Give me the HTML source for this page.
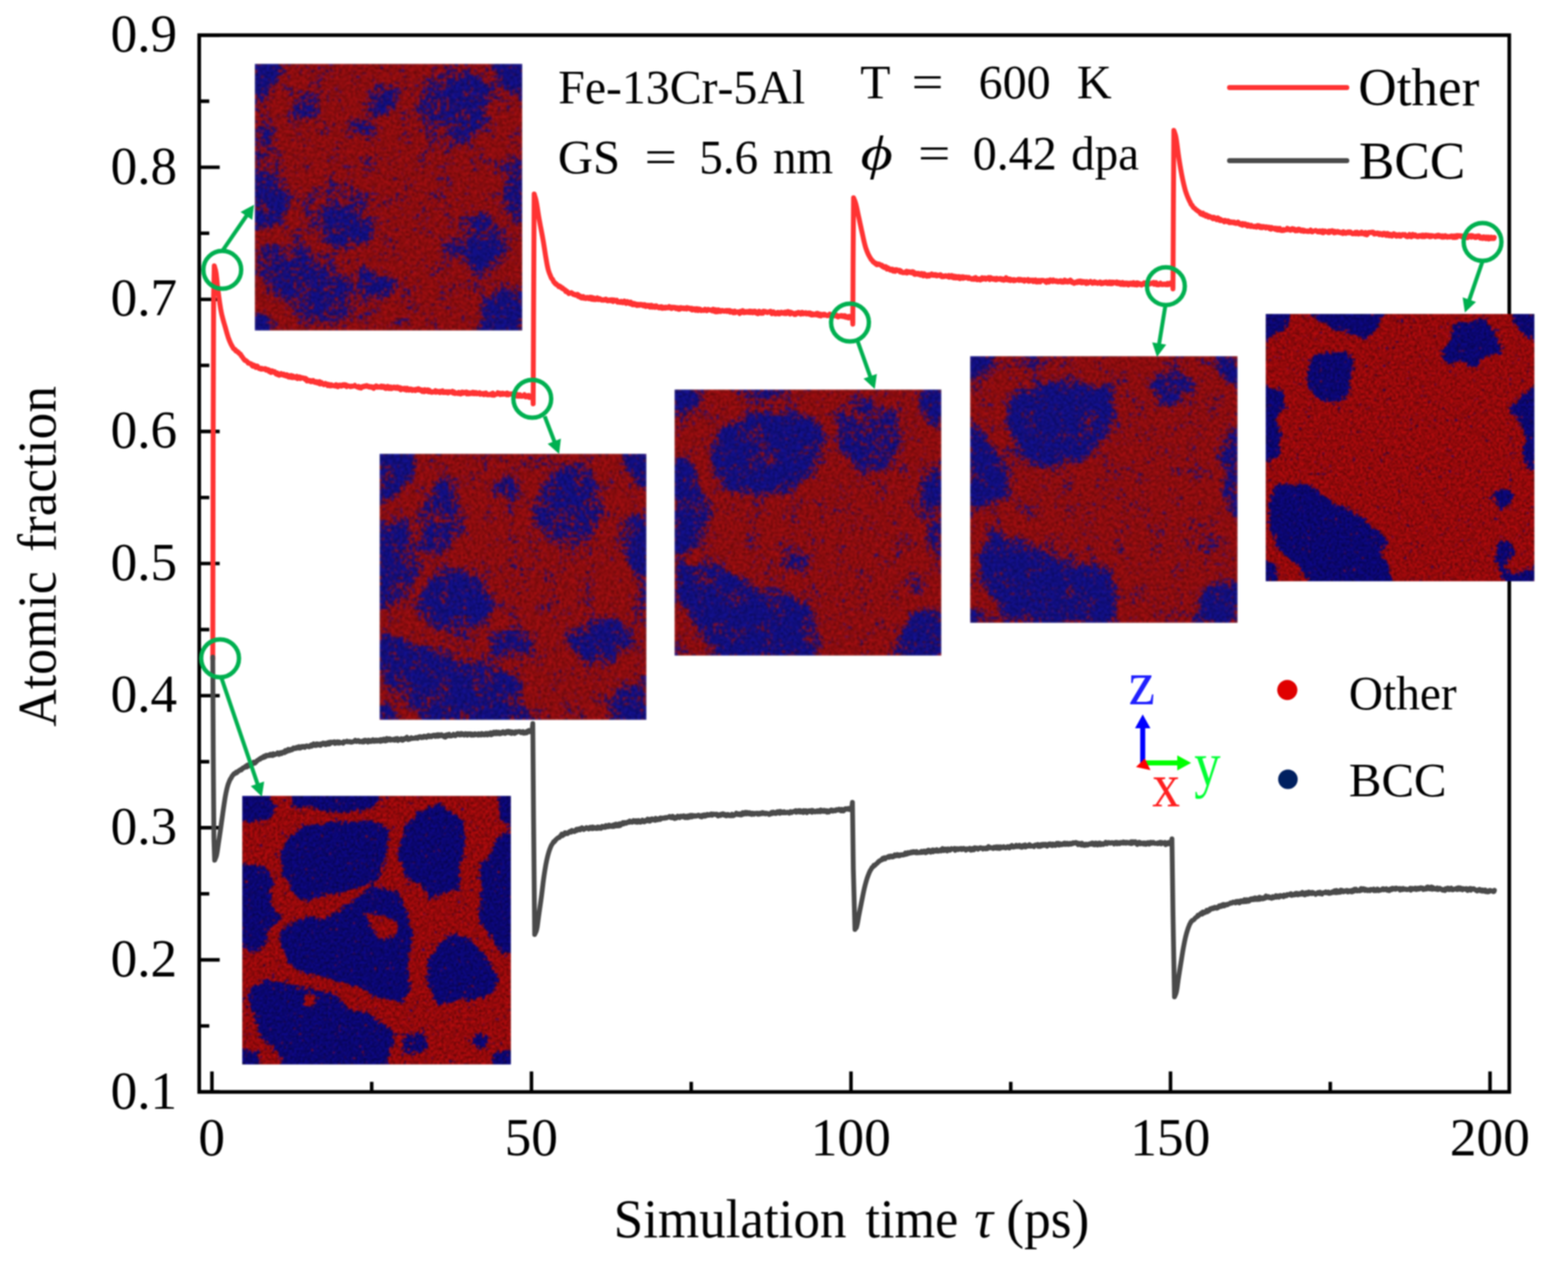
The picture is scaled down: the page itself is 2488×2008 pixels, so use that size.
<!DOCTYPE html>
<html lang="en"><head><meta charset="utf-8"><title>Atomic fraction vs simulation time</title>
<style>html,body{margin:0;padding:0;background:#fff;}body{width:2488px;height:2008px;}svg{display:block;filter:blur(1px);}text{font-family:'Liberation Serif', 'DejaVu Serif', serif;fill:#000;font-kerning:none;}</style></head><body>
<svg width="2488" height="2008" viewBox="0 0 2488 2008">
<rect width="2488" height="2008" fill="#fff"/>
<path d="M316.1 1733.3H348.6M316.1 1628.5H332.1M316.1 1523.6H348.6M316.1 1418.8H332.1M316.1 1313.9H348.6M316.1 1209.1H332.1M316.1 1104.2H348.6M316.1 999.4H332.1M316.1 894.5H348.6M316.1 789.7H332.1M316.1 684.9H348.6M316.1 580.0H332.1M316.1 475.2H348.6M316.1 370.3H332.1M316.1 265.5H348.6M316.1 160.6H332.1M316.1 55.8H348.6M336.3 1733.3V1700.8M843.3 1733.3V1700.8M1350.3 1733.3V1700.8M1857.3 1733.3V1700.8M2364.3 1733.3V1700.8M589.8 1733.3V1717.3M1096.8 1733.3V1717.3M1603.8 1733.3V1717.3M2110.8 1733.3V1717.3" stroke="#000" stroke-width="5.6" fill="none"/>
<rect x="316.1" y="55.8" width="2078.7" height="1677.5" fill="none" stroke="#000" stroke-width="5.8"/>
<text transform="translate(175.38 1759.50) scale(0.9889 1)" font-size="85.5">0.1</text>
<text transform="translate(175.38 1549.81) scale(0.9889 1)" font-size="85.5">0.2</text>
<text transform="translate(175.38 1340.12) scale(0.9889 1)" font-size="85.5">0.3</text>
<text transform="translate(175.38 1130.44) scale(0.9889 1)" font-size="85.5">0.4</text>
<text transform="translate(175.38 920.75) scale(0.9889 1)" font-size="85.5">0.5</text>
<text transform="translate(175.38 711.06) scale(0.9889 1)" font-size="85.5">0.6</text>
<text transform="translate(175.38 501.37) scale(0.9889 1)" font-size="85.5">0.7</text>
<text transform="translate(175.38 291.69) scale(0.9889 1)" font-size="85.5">0.8</text>
<text transform="translate(175.38 82.00) scale(0.9889 1)" font-size="85.5">0.9</text>
<text transform="translate(314.86 1833.80) scale(0.9889 1)" font-size="85.5">0</text>
<text transform="translate(800.72 1833.80) scale(0.9889 1)" font-size="85.5">50</text>
<text transform="translate(1286.59 1833.80) scale(0.9889 1)" font-size="85.5">100</text>
<text transform="translate(1793.59 1833.80) scale(0.9889 1)" font-size="85.5">150</text>
<text transform="translate(2300.59 1833.80) scale(0.9889 1)" font-size="85.5">200</text>
<text transform="translate(87.60 1153.40) rotate(-90) scale(0.9561 1)" font-size="86">Atomic</text>
<text transform="translate(87.60 875.90) rotate(-90) scale(0.9842 1)" font-size="86">fraction</text>
<text transform="translate(973.87 1963.80) scale(0.9781 1)" font-size="86">Simulation</text>
<text transform="translate(1373.19 1963.80) scale(0.9636 1)" font-size="86">time</text>
<text transform="translate(1545.98 1963.80) scale(0.9653 1)" font-size="86" font-style="italic">τ</text>
<text transform="translate(1596.78 1963.80) scale(0.9835 1)" font-size="86">(ps)</text>
<text transform="translate(885.71 164.20) scale(0.9982 1)" font-size="76">Fe-13Cr-5Al</text>
<text transform="translate(885.23 275.30) scale(1.0154 1)" font-size="76">GS</text>
<text transform="translate(1022.76 275.30) scale(1.1989 1)" font-size="76">=</text>
<text transform="translate(1109.45 275.30) scale(0.9851 1)" font-size="76">5.6</text>
<text transform="translate(1226.38 275.30) scale(0.9842 1)" font-size="76">nm</text>
<text transform="translate(1364.98 155.80) scale(1.0322 1)" font-size="76">T</text>
<text transform="translate(1446.44 155.80) scale(1.1791 1)" font-size="76">=</text>
<text transform="translate(1552.83 155.80) scale(1.0015 1)" font-size="76">600</text>
<text transform="translate(1708.70 155.80) scale(1.0055 1)" font-size="76">K</text>
<text transform="translate(1365.53 269.40) scale(1.3013 1)" font-size="76" font-style="italic">ϕ</text>
<text transform="translate(1456.77 269.40) scale(1.1961 1)" font-size="76">=</text>
<text transform="translate(1543.50 269.40) scale(1.0015 1)" font-size="76">0.42</text>
<text transform="translate(1699.71 269.40) scale(0.9807 1)" font-size="76">dpa</text>
<path d="M337.6 1046.0 L338.2 700.0 L339.0 470.0 L340.0 422.0 L341.0 425.3 L342.0 428.8 L343.0 434.1 L344.0 442.8 L345.0 453.0 L346.0 462.0 L347.0 469.5 L348.0 476.8 L349.0 483.5 L350.0 489.7 L351.0 495.0 L352.0 499.6 L353.0 503.7 L354.0 507.5 L355.0 511.1 L356.0 514.5 L357.0 517.9 L358.0 521.4 L359.0 525.0 L360.0 528.6 L361.0 532.0 L362.0 535.2 L363.0 538.0 L364.0 540.5 L365.0 542.9 L366.0 545.1 L367.0 547.2 L368.0 549.0 L369.0 550.5 L370.0 552.7 L371.0 553.7 L372.0 554.3 L373.0 554.7 L374.0 556.9 L375.0 557.4 L376.0 557.3 L377.0 558.7 L378.0 559.0 L379.0 560.5 L380.0 561.5 L381.0 561.6 L382.0 562.9 L383.0 565.1 L384.0 565.8 L385.0 567.3 L386.0 569.0 L387.0 570.0 L388.0 571.5 L389.0 572.4 L390.0 572.2 L391.0 573.3 L392.0 573.8 L393.0 574.7 L394.0 576.7 L395.0 576.7 L396.0 577.0 L397.0 576.8 L398.0 577.6 L399.0 577.6 L400.0 580.5 L401.0 581.3 L402.0 579.2 L403.0 579.6 L404.0 581.1 L405.0 580.8 L406.0 583.3 L407.0 582.8 L408.0 581.0 L409.0 581.9 L410.0 583.5 L411.0 584.9 L412.0 584.5 L413.0 585.0 L414.0 585.9 L415.0 584.7 L416.0 585.6 L417.0 586.0 L418.0 585.5 L419.0 585.5 L420.0 585.2 L421.0 585.1 L422.0 587.4 L423.0 586.1 L424.0 587.9 L425.0 587.9 L426.0 586.8 L427.0 589.7 L428.0 588.0 L429.0 589.2 L430.0 591.2 L431.0 588.4 L432.0 588.7 L433.0 589.1 L434.0 590.9 L435.0 590.8 L436.0 590.2 L437.0 592.3 L438.0 593.6 L439.0 592.2 L440.0 592.0 L441.0 595.0 L442.0 595.2 L443.0 595.7 L444.0 595.1 L445.0 594.3 L446.0 592.9 L447.0 595.0 L448.0 595.2 L449.0 594.5 L450.0 593.9 L451.0 596.1 L452.0 595.7 L453.0 595.3 L454.0 596.8 L455.0 594.8 L456.0 595.7 L457.0 595.6 L458.0 598.5 L459.0 596.4 L460.0 598.4 L461.0 599.0 L462.0 596.0 L463.0 598.4 L464.0 599.3 L465.0 596.9 L466.0 597.3 L467.0 598.9 L468.0 599.4 L469.0 599.7 L470.0 599.1 L471.0 597.4 L472.0 600.9 L473.0 599.1 L474.0 598.9 L475.0 598.2 L476.0 598.5 L477.0 600.9 L478.0 599.5 L479.0 599.4 L480.0 599.7 L481.0 599.8 L482.0 600.2 L483.0 601.3 L484.0 602.3 L485.0 600.7 L486.0 601.3 L487.0 604.7 L488.0 603.0 L489.0 603.2 L490.0 604.5 L491.0 603.9 L492.0 604.0 L493.0 605.9 L494.0 606.0 L495.0 604.5 L496.0 604.1 L497.0 603.9 L498.0 605.5 L499.0 606.8 L500.0 607.1 L501.0 606.3 L502.0 605.8 L503.0 607.6 L504.0 606.7 L505.0 608.0 L506.0 608.8 L507.0 605.7 L508.0 609.4 L509.0 608.9 L510.0 607.0 L511.0 609.2 L512.0 609.3 L513.0 610.2 L514.0 610.7 L515.0 609.8 L516.0 608.7 L517.0 609.6 L518.0 610.4 L519.0 609.6 L520.0 612.2 L521.0 610.3 L522.0 610.2 L523.0 612.6 L524.0 612.6 L525.0 611.8 L526.0 610.8 L527.0 612.2 L528.0 611.9 L529.0 612.1 L530.0 612.5 L531.0 612.6 L532.0 612.9 L533.0 610.6 L534.0 610.8 L535.0 613.6 L536.0 614.0 L537.0 613.3 L538.0 611.5 L539.0 611.2 L540.0 612.2 L541.0 611.7 L542.0 612.9 L543.0 612.2 L544.0 610.6 L545.0 610.8 L546.0 612.0 L547.0 610.5 L548.0 611.3 L549.0 611.0 L550.0 613.8 L551.0 612.1 L552.0 612.5 L553.0 612.5 L554.0 612.8 L555.0 613.0 L556.0 613.9 L557.0 613.7 L558.0 612.8 L559.0 613.4 L560.0 613.1 L561.0 612.7 L562.0 612.7 L563.0 611.7 L564.0 613.1 L565.0 613.6 L566.0 613.7 L567.0 614.5 L568.0 614.6 L569.0 613.3 L570.0 615.6 L571.0 615.6 L572.0 614.7 L573.0 615.9 L574.0 614.6 L575.0 613.6 L576.0 613.3 L577.0 613.9 L578.0 612.7 L579.0 613.2 L580.0 612.5 L581.0 613.2 L582.0 612.0 L583.0 612.7 L584.0 613.1 L585.0 614.2 L586.0 613.4 L587.0 614.6 L588.0 614.1 L589.0 613.7 L590.0 614.9 L591.0 615.4 L592.0 614.4 L593.0 616.4 L594.0 614.8 L595.0 613.6 L596.0 614.4 L597.0 612.7 L598.0 614.6 L599.0 614.8 L600.0 613.8 L601.0 614.6 L602.0 614.4 L603.0 614.4 L604.0 614.8 L605.0 612.9 L606.0 614.8 L607.0 613.2 L608.0 614.6 L609.0 613.2 L610.0 613.5 L611.0 616.3 L612.0 616.7 L613.0 615.7 L614.0 615.8 L615.0 613.2 L616.0 613.6 L617.0 616.8 L618.0 615.5 L619.0 616.5 L620.0 614.2 L621.0 617.0 L622.0 616.8 L623.0 615.1 L624.0 615.3 L625.0 614.4 L626.0 615.2 L627.0 616.3 L628.0 616.5 L629.0 614.7 L630.0 615.6 L631.0 614.4 L632.0 616.8 L633.0 616.3 L634.0 617.1 L635.0 615.4 L636.0 618.8 L637.0 616.7 L638.0 616.4 L639.0 617.2 L640.0 617.6 L641.0 616.7 L642.0 618.4 L643.0 616.2 L644.0 618.3 L645.0 619.3 L646.0 616.2 L647.0 618.7 L648.0 618.3 L649.0 619.5 L650.0 619.3 L651.0 617.4 L652.0 617.3 L653.0 618.8 L654.0 619.8 L655.0 618.4 L656.0 619.4 L657.0 618.9 L658.0 618.4 L659.0 619.9 L660.0 619.1 L661.0 617.6 L662.0 617.8 L663.0 618.9 L664.0 617.1 L665.0 617.6 L666.0 619.3 L667.0 618.8 L668.0 620.0 L669.0 618.8 L670.0 621.4 L671.0 620.1 L672.0 619.7 L673.0 621.7 L674.0 618.5 L675.0 620.3 L676.0 621.0 L677.0 621.1 L678.0 621.0 L679.0 618.9 L680.0 622.0 L681.0 619.3 L682.0 621.7 L683.0 622.2 L684.0 622.4 L685.0 622.8 L686.0 621.8 L687.0 622.3 L688.0 621.7 L689.0 622.0 L690.0 621.9 L691.0 620.2 L692.0 622.7 L693.0 620.9 L694.0 622.1 L695.0 621.3 L696.0 621.6 L697.0 621.3 L698.0 623.3 L699.0 622.5 L700.0 621.0 L701.0 620.9 L702.0 620.4 L703.0 623.1 L704.0 622.8 L705.0 623.1 L706.0 622.0 L707.0 621.7 L708.0 622.9 L709.0 621.9 L710.0 621.7 L711.0 623.8 L712.0 622.0 L713.0 621.6 L714.0 622.5 L715.0 622.3 L716.0 622.7 L717.0 622.5 L718.0 621.1 L719.0 624.1 L720.0 623.2 L721.0 622.4 L722.0 624.7 L723.0 623.5 L724.0 624.1 L725.0 624.3 L726.0 624.5 L727.0 624.8 L728.0 622.7 L729.0 624.4 L730.0 623.8 L731.0 625.4 L732.0 623.0 L733.0 622.4 L734.0 624.0 L735.0 624.3 L736.0 622.6 L737.0 622.8 L738.0 623.6 L739.0 623.3 L740.0 622.3 L741.0 625.3 L742.0 622.8 L743.0 625.0 L744.0 625.4 L745.0 624.5 L746.0 623.6 L747.0 624.9 L748.0 624.7 L749.0 623.3 L750.0 622.7 L751.0 625.0 L752.0 623.0 L753.0 625.0 L754.0 623.2 L755.0 624.5 L756.0 623.5 L757.0 625.2 L758.0 623.9 L759.0 624.2 L760.0 624.4 L761.0 623.4 L762.0 625.9 L763.0 625.2 L764.0 625.0 L765.0 624.4 L766.0 625.3 L767.0 626.4 L768.0 626.5 L769.0 624.2 L770.0 624.4 L771.0 623.8 L772.0 626.2 L773.0 626.6 L774.0 626.8 L775.0 626.0 L776.0 626.5 L777.0 626.6 L778.0 625.8 L779.0 625.3 L780.0 625.0 L781.0 627.2 L782.0 623.9 L783.0 626.1 L784.0 627.4 L785.0 626.4 L786.0 626.0 L787.0 626.0 L788.0 625.4 L789.0 625.5 L790.0 623.4 L791.0 624.1 L792.0 623.9 L793.0 624.5 L794.0 626.4 L795.0 624.2 L796.0 624.9 L797.0 625.8 L798.0 624.2 L799.0 625.7 L800.0 625.8 L801.0 624.9 L802.0 624.6 L803.0 625.1 L804.0 626.6 L805.0 623.8 L806.0 626.0 L807.0 626.7 L808.0 625.6 L809.0 625.2 L810.0 625.4 L811.0 625.6 L812.0 625.1 L813.0 626.4 L814.0 626.1 L815.0 625.6 L816.0 626.1 L817.0 626.5 L818.0 628.6 L819.0 627.3 L820.0 625.7 L821.0 629.1 L822.0 626.6 L823.0 627.7 L824.0 628.8 L825.0 626.6 L826.0 628.0 L827.0 629.0 L828.0 628.7 L829.0 629.1 L830.0 627.9 L831.0 627.6 L832.0 626.5 L833.0 628.2 L834.0 629.9 L835.0 628.3 L836.0 629.6 L837.0 627.8 L838.0 627.8 L839.0 627.7 L840.0 631.1 L841.0 629.0 L842.0 628.7 L843.0 630.5 L844.0 629.1 L845.0 630.3 L845.2 629.0 L845.6 629.0 L846.0 641.0 L846.6 500.0 L847.6 308.0 L848.6 311.3 L849.6 314.5 L850.6 318.4 L851.6 323.6 L852.6 329.7 L853.6 336.3 L854.6 342.6 L855.6 348.4 L856.6 353.8 L857.6 359.1 L858.6 364.3 L859.6 369.5 L860.6 374.8 L861.6 380.4 L862.6 386.2 L863.6 392.6 L864.6 399.2 L865.6 405.6 L866.6 411.5 L867.6 417.3 L868.6 422.7 L869.6 427.0 L870.6 430.4 L871.6 433.3 L872.6 435.9 L873.6 438.1 L874.6 440.8 L875.6 442.5 L876.6 443.1 L877.6 445.1 L878.6 447.7 L879.6 447.8 L880.6 449.9 L881.6 451.0 L882.6 450.5 L883.6 452.3 L884.6 452.6 L885.6 452.9 L886.6 454.9 L887.6 453.9 L888.6 455.6 L889.6 455.0 L890.6 456.8 L891.6 457.6 L892.6 457.0 L893.6 458.9 L894.6 458.8 L895.6 460.0 L896.6 459.9 L897.6 462.7 L898.6 462.4 L899.6 462.2 L900.6 464.0 L901.6 464.2 L902.6 466.0 L903.6 465.5 L904.6 465.4 L905.6 464.8 L906.6 464.5 L907.6 465.3 L908.6 466.0 L909.6 467.3 L910.6 466.8 L911.6 468.0 L912.6 468.0 L913.6 468.6 L914.6 467.7 L915.6 468.7 L916.6 467.4 L917.6 470.6 L918.6 469.3 L919.6 469.2 L920.6 471.9 L921.6 470.8 L922.6 473.0 L923.6 471.0 L924.6 470.7 L925.6 470.6 L926.6 473.4 L927.6 472.6 L928.6 472.4 L929.6 474.0 L930.6 472.2 L931.6 471.9 L932.6 473.2 L933.6 472.5 L934.6 474.2 L935.6 472.1 L936.6 471.7 L937.6 473.6 L938.6 475.0 L939.6 472.1 L940.6 473.6 L941.6 475.3 L942.6 473.1 L943.6 475.7 L944.6 475.7 L945.6 475.0 L946.6 473.5 L947.6 472.9 L948.6 475.4 L949.6 475.6 L950.6 475.4 L951.6 474.0 L952.6 475.4 L953.6 475.1 L954.6 476.4 L955.6 475.8 L956.6 476.5 L957.6 476.7 L958.6 475.7 L959.6 475.2 L960.6 476.2 L961.6 474.9 L962.6 475.6 L963.6 477.6 L964.6 477.5 L965.6 477.3 L966.6 476.3 L967.6 477.2 L968.6 476.0 L969.6 476.5 L970.6 475.9 L971.6 478.2 L972.6 478.6 L973.6 475.9 L974.6 476.2 L975.6 477.4 L976.6 476.6 L977.6 477.1 L978.6 476.6 L979.6 479.6 L980.6 479.8 L981.6 478.8 L982.6 479.4 L983.6 480.1 L984.6 479.5 L985.6 478.4 L986.6 479.2 L987.6 480.7 L988.6 480.6 L989.6 479.2 L990.6 477.9 L991.6 479.1 L992.6 480.6 L993.6 481.5 L994.6 478.7 L995.6 478.6 L996.6 480.9 L997.6 480.0 L998.6 480.4 L999.6 482.2 L1000.6 479.5 L1001.6 482.7 L1002.6 482.7 L1003.6 483.7 L1004.6 483.4 L1005.6 481.5 L1006.6 483.7 L1007.6 482.2 L1008.6 483.5 L1009.6 482.8 L1010.6 485.0 L1011.6 484.5 L1012.6 483.2 L1013.6 484.5 L1014.6 483.4 L1015.6 484.4 L1016.6 483.1 L1017.6 483.9 L1018.6 483.5 L1019.6 483.5 L1020.6 485.4 L1021.6 483.9 L1022.6 483.4 L1023.6 483.7 L1024.6 486.5 L1025.6 486.2 L1026.6 485.9 L1027.6 484.7 L1028.6 486.3 L1029.6 485.8 L1030.6 484.8 L1031.6 487.6 L1032.6 487.2 L1033.6 484.4 L1034.6 485.6 L1035.6 487.6 L1036.6 486.0 L1037.6 485.7 L1038.6 486.1 L1039.6 487.9 L1040.6 485.4 L1041.6 485.5 L1042.6 486.6 L1043.6 487.8 L1044.6 488.2 L1045.6 488.7 L1046.6 488.8 L1047.6 486.9 L1048.6 487.1 L1049.6 486.8 L1050.6 489.4 L1051.6 488.3 L1052.6 489.1 L1053.6 487.8 L1054.6 488.6 L1055.6 489.2 L1056.6 487.6 L1057.6 488.5 L1058.6 488.0 L1059.6 488.7 L1060.6 487.9 L1061.6 486.7 L1062.6 488.4 L1063.6 487.7 L1064.6 489.4 L1065.6 489.7 L1066.6 487.5 L1067.6 488.9 L1068.6 487.8 L1069.6 487.6 L1070.6 488.7 L1071.6 488.1 L1072.6 489.9 L1073.6 489.1 L1074.6 488.4 L1075.6 488.3 L1076.6 490.9 L1077.6 489.0 L1078.6 490.9 L1079.6 488.3 L1080.6 488.6 L1081.6 488.5 L1082.6 489.8 L1083.6 489.9 L1084.6 488.8 L1085.6 490.2 L1086.6 489.9 L1087.6 488.9 L1088.6 488.5 L1089.6 490.5 L1090.6 488.3 L1091.6 489.0 L1092.6 488.9 L1093.6 488.9 L1094.6 489.7 L1095.6 490.9 L1096.6 490.8 L1097.6 489.4 L1098.6 492.1 L1099.6 491.2 L1100.6 491.0 L1101.6 490.1 L1102.6 492.0 L1103.6 492.6 L1104.6 489.8 L1105.6 489.8 L1106.6 491.9 L1107.6 492.9 L1108.6 490.3 L1109.6 490.7 L1110.6 490.7 L1111.6 491.8 L1112.6 493.0 L1113.6 492.1 L1114.6 492.1 L1115.6 492.6 L1116.6 492.9 L1117.6 492.3 L1118.6 490.8 L1119.6 491.6 L1120.6 492.9 L1121.6 493.3 L1122.6 492.5 L1123.6 491.1 L1124.6 491.7 L1125.6 491.9 L1126.6 492.2 L1127.6 492.0 L1128.6 492.7 L1129.6 493.3 L1130.6 491.5 L1131.6 490.8 L1132.6 493.9 L1133.6 493.4 L1134.6 494.6 L1135.6 491.6 L1136.6 495.0 L1137.6 494.0 L1138.6 494.7 L1139.6 491.8 L1140.6 492.1 L1141.6 494.3 L1142.6 493.2 L1143.6 494.3 L1144.6 493.0 L1145.6 492.7 L1146.6 493.6 L1147.6 493.1 L1148.6 493.9 L1149.6 494.2 L1150.6 493.8 L1151.6 492.9 L1152.6 493.1 L1153.6 494.4 L1154.6 492.9 L1155.6 493.4 L1156.6 493.7 L1157.6 492.9 L1158.6 495.6 L1159.6 493.5 L1160.6 494.0 L1161.6 495.1 L1162.6 494.5 L1163.6 496.5 L1164.6 494.3 L1165.6 493.8 L1166.6 496.4 L1167.6 495.7 L1168.6 495.2 L1169.6 495.2 L1170.6 494.9 L1171.6 495.9 L1172.6 496.5 L1173.6 497.6 L1174.6 494.2 L1175.6 494.1 L1176.6 496.1 L1177.6 495.0 L1178.6 493.1 L1179.6 493.8 L1180.6 496.4 L1181.6 494.4 L1182.6 494.9 L1183.6 495.8 L1184.6 494.4 L1185.6 494.4 L1186.6 495.0 L1187.6 496.1 L1188.6 495.9 L1189.6 493.7 L1190.6 496.3 L1191.6 496.2 L1192.6 494.0 L1193.6 496.4 L1194.6 496.5 L1195.6 495.7 L1196.6 494.0 L1197.6 496.0 L1198.6 494.1 L1199.6 495.8 L1200.6 497.2 L1201.6 495.8 L1202.6 497.9 L1203.6 496.1 L1204.6 494.1 L1205.6 494.9 L1206.6 496.7 L1207.6 497.3 L1208.6 496.7 L1209.6 495.0 L1210.6 497.2 L1211.6 494.0 L1212.6 495.7 L1213.6 494.5 L1214.6 494.4 L1215.6 495.2 L1216.6 495.5 L1217.6 496.2 L1218.6 495.7 L1219.6 495.1 L1220.6 494.7 L1221.6 495.5 L1222.6 494.1 L1223.6 494.6 L1224.6 497.9 L1225.6 496.4 L1226.6 496.2 L1227.6 495.2 L1228.6 497.8 L1229.6 497.9 L1230.6 498.4 L1231.6 497.8 L1232.6 497.8 L1233.6 495.9 L1234.6 495.7 L1235.6 498.3 L1236.6 498.3 L1237.6 497.9 L1238.6 496.0 L1239.6 495.5 L1240.6 496.9 L1241.6 496.1 L1242.6 497.4 L1243.6 497.2 L1244.6 497.7 L1245.6 495.3 L1246.6 495.4 L1247.6 497.9 L1248.6 495.4 L1249.6 496.5 L1250.6 494.5 L1251.6 497.1 L1252.6 495.8 L1253.6 498.5 L1254.6 495.5 L1255.6 496.1 L1256.6 497.4 L1257.6 496.8 L1258.6 497.6 L1259.6 497.5 L1260.6 499.1 L1261.6 497.6 L1262.6 499.1 L1263.6 496.8 L1264.6 497.2 L1265.6 496.7 L1266.6 495.8 L1267.6 497.3 L1268.6 496.3 L1269.6 497.2 L1270.6 498.6 L1271.6 496.8 L1272.6 495.8 L1273.6 496.1 L1274.6 498.2 L1275.6 496.7 L1276.6 497.2 L1277.6 497.4 L1278.6 496.5 L1279.6 498.3 L1280.6 497.4 L1281.6 497.9 L1282.6 496.9 L1283.6 498.7 L1284.6 496.7 L1285.6 496.7 L1286.6 499.6 L1287.6 500.2 L1288.6 500.2 L1289.6 498.1 L1290.6 499.9 L1291.6 499.8 L1292.6 499.6 L1293.6 498.6 L1294.6 499.5 L1295.6 497.6 L1296.6 499.9 L1297.6 497.3 L1298.6 500.1 L1299.6 501.0 L1300.6 500.6 L1301.6 498.6 L1302.6 501.5 L1303.6 499.9 L1304.6 500.0 L1305.6 499.1 L1306.6 498.8 L1307.6 500.5 L1308.6 498.9 L1309.6 500.1 L1310.6 499.8 L1311.6 500.7 L1312.6 501.2 L1313.6 501.2 L1314.6 500.5 L1315.6 500.1 L1316.6 498.5 L1317.6 499.0 L1318.6 499.5 L1319.6 499.9 L1320.6 500.7 L1321.6 501.4 L1322.6 501.3 L1323.6 500.4 L1324.6 500.0 L1325.6 501.4 L1326.6 501.7 L1327.6 500.4 L1328.6 502.1 L1329.6 503.2 L1330.6 502.7 L1331.6 501.4 L1332.6 501.9 L1333.6 501.6 L1334.6 500.8 L1335.6 502.0 L1336.6 501.1 L1337.6 502.4 L1338.6 501.5 L1339.6 502.6 L1340.6 501.0 L1341.6 503.5 L1342.6 502.0 L1343.6 504.0 L1344.6 504.2 L1345.6 503.7 L1346.6 504.7 L1347.6 502.1 L1348.6 502.5 L1349.6 503.0 L1350.6 503.1 L1351.6 502.7 L1352.2 503.5 L1352.6 503.5 L1353.2 514.5 L1353.6 420.0 L1354.4 314.0 L1355.4 316.4 L1356.4 318.9 L1357.4 321.7 L1358.4 325.3 L1359.4 329.6 L1360.4 334.4 L1361.4 339.2 L1362.4 343.8 L1363.4 348.4 L1364.4 353.1 L1365.4 357.7 L1366.4 362.3 L1367.4 366.8 L1368.4 371.4 L1369.4 376.0 L1370.4 380.6 L1371.4 384.9 L1372.4 388.9 L1373.4 392.4 L1374.4 395.4 L1375.4 398.1 L1376.4 400.7 L1377.4 402.9 L1378.4 404.9 L1379.4 406.8 L1380.4 408.7 L1381.4 410.2 L1382.4 412.0 L1383.4 412.7 L1384.4 414.0 L1385.4 415.7 L1386.4 415.6 L1387.4 417.4 L1388.4 417.4 L1389.4 418.9 L1390.4 418.2 L1391.4 420.3 L1392.4 419.6 L1393.4 420.0 L1394.4 418.9 L1395.4 419.5 L1396.4 419.7 L1397.4 420.7 L1398.4 421.7 L1399.4 421.1 L1400.4 423.2 L1401.4 422.5 L1402.4 424.4 L1403.4 424.8 L1404.4 423.3 L1405.4 423.1 L1406.4 424.5 L1407.4 427.1 L1408.4 426.1 L1409.4 425.3 L1410.4 426.6 L1411.4 428.0 L1412.4 428.6 L1413.4 427.3 L1414.4 427.1 L1415.4 429.1 L1416.4 427.3 L1417.4 430.2 L1418.4 428.3 L1419.4 428.7 L1420.4 430.8 L1421.4 428.0 L1422.4 429.6 L1423.4 428.5 L1424.4 429.7 L1425.4 429.6 L1426.4 429.9 L1427.4 429.1 L1428.4 431.8 L1429.4 429.9 L1430.4 431.7 L1431.4 431.6 L1432.4 432.9 L1433.4 432.7 L1434.4 432.7 L1435.4 432.8 L1436.4 432.7 L1437.4 431.1 L1438.4 430.5 L1439.4 433.4 L1440.4 433.0 L1441.4 431.1 L1442.4 431.3 L1443.4 431.5 L1444.4 431.6 L1445.4 433.0 L1446.4 432.4 L1447.4 431.4 L1448.4 433.2 L1449.4 431.6 L1450.4 435.0 L1451.4 435.5 L1452.4 435.6 L1453.4 433.6 L1454.4 433.8 L1455.4 434.0 L1456.4 435.3 L1457.4 433.9 L1458.4 435.8 L1459.4 436.1 L1460.4 436.7 L1461.4 436.1 L1462.4 434.1 L1463.4 437.1 L1464.4 435.5 L1465.4 438.0 L1466.4 434.6 L1467.4 435.0 L1468.4 437.3 L1469.4 437.2 L1470.4 438.6 L1471.4 438.4 L1472.4 436.3 L1473.4 436.1 L1474.4 438.2 L1475.4 436.8 L1476.4 435.9 L1477.4 436.4 L1478.4 434.9 L1479.4 437.0 L1480.4 437.1 L1481.4 435.8 L1482.4 437.2 L1483.4 437.3 L1484.4 435.8 L1485.4 436.9 L1486.4 437.9 L1487.4 436.5 L1488.4 436.9 L1489.4 436.7 L1490.4 437.5 L1491.4 437.7 L1492.4 436.1 L1493.4 437.3 L1494.4 439.4 L1495.4 439.4 L1496.4 438.9 L1497.4 438.1 L1498.4 438.9 L1499.4 437.9 L1500.4 437.5 L1501.4 438.2 L1502.4 438.7 L1503.4 439.2 L1504.4 438.8 L1505.4 437.4 L1506.4 440.1 L1507.4 437.9 L1508.4 439.4 L1509.4 439.5 L1510.4 437.3 L1511.4 440.3 L1512.4 439.6 L1513.4 441.0 L1514.4 438.4 L1515.4 439.3 L1516.4 441.2 L1517.4 438.9 L1518.4 440.5 L1519.4 441.1 L1520.4 441.5 L1521.4 439.1 L1522.4 439.4 L1523.4 442.3 L1524.4 439.5 L1525.4 440.6 L1526.4 441.4 L1527.4 439.2 L1528.4 441.8 L1529.4 439.6 L1530.4 440.5 L1531.4 441.1 L1532.4 440.5 L1533.4 439.9 L1534.4 440.7 L1535.4 440.6 L1536.4 442.0 L1537.4 440.4 L1538.4 441.1 L1539.4 441.7 L1540.4 442.7 L1541.4 442.7 L1542.4 443.3 L1543.4 442.8 L1544.4 441.9 L1545.4 443.3 L1546.4 441.2 L1547.4 442.6 L1548.4 440.7 L1549.4 443.8 L1550.4 444.1 L1551.4 443.9 L1552.4 443.8 L1553.4 442.6 L1554.4 443.4 L1555.4 444.3 L1556.4 442.6 L1557.4 443.6 L1558.4 440.8 L1559.4 443.2 L1560.4 442.7 L1561.4 441.3 L1562.4 442.6 L1563.4 441.4 L1564.4 443.3 L1565.4 441.9 L1566.4 442.4 L1567.4 441.6 L1568.4 440.7 L1569.4 442.8 L1570.4 443.8 L1571.4 440.5 L1572.4 440.9 L1573.4 441.3 L1574.4 443.0 L1575.4 442.9 L1576.4 443.3 L1577.4 442.1 L1578.4 443.7 L1579.4 442.6 L1580.4 444.1 L1581.4 441.7 L1582.4 443.6 L1583.4 442.4 L1584.4 442.8 L1585.4 443.3 L1586.4 442.3 L1587.4 441.9 L1588.4 443.2 L1589.4 444.1 L1590.4 442.5 L1591.4 444.0 L1592.4 444.8 L1593.4 443.7 L1594.4 442.6 L1595.4 444.2 L1596.4 440.8 L1597.4 442.9 L1598.4 444.1 L1599.4 442.7 L1600.4 444.7 L1601.4 443.1 L1602.4 442.9 L1603.4 445.4 L1604.4 443.7 L1605.4 443.8 L1606.4 444.3 L1607.4 443.9 L1608.4 445.6 L1609.4 443.9 L1610.4 445.4 L1611.4 445.1 L1612.4 444.6 L1613.4 444.4 L1614.4 444.2 L1615.4 443.6 L1616.4 443.3 L1617.4 445.1 L1618.4 443.9 L1619.4 443.4 L1620.4 444.2 L1621.4 445.1 L1622.4 444.3 L1623.4 445.0 L1624.4 444.4 L1625.4 446.3 L1626.4 444.1 L1627.4 445.0 L1628.4 444.9 L1629.4 445.3 L1630.4 445.3 L1631.4 443.7 L1632.4 446.6 L1633.4 444.9 L1634.4 445.8 L1635.4 444.4 L1636.4 444.9 L1637.4 445.1 L1638.4 444.6 L1639.4 447.0 L1640.4 446.7 L1641.4 444.8 L1642.4 445.4 L1643.4 444.5 L1644.4 447.4 L1645.4 446.0 L1646.4 447.6 L1647.4 447.6 L1648.4 445.1 L1649.4 447.3 L1650.4 447.6 L1651.4 445.3 L1652.4 444.8 L1653.4 445.0 L1654.4 445.2 L1655.4 445.0 L1656.4 445.4 L1657.4 446.0 L1658.4 447.1 L1659.4 447.1 L1660.4 448.3 L1661.4 445.2 L1662.4 446.4 L1663.4 445.5 L1664.4 447.7 L1665.4 446.9 L1666.4 444.2 L1667.4 445.5 L1668.4 446.3 L1669.4 445.8 L1670.4 446.8 L1671.4 444.4 L1672.4 445.3 L1673.4 446.2 L1674.4 446.6 L1675.4 446.9 L1676.4 445.6 L1677.4 446.7 L1678.4 447.5 L1679.4 447.4 L1680.4 447.2 L1681.4 445.9 L1682.4 446.8 L1683.4 445.7 L1684.4 447.8 L1685.4 446.5 L1686.4 446.3 L1687.4 447.9 L1688.4 446.5 L1689.4 444.7 L1690.4 445.5 L1691.4 447.3 L1692.4 445.9 L1693.4 446.8 L1694.4 447.7 L1695.4 446.1 L1696.4 445.4 L1697.4 446.1 L1698.4 444.6 L1699.4 447.4 L1700.4 448.2 L1701.4 447.0 L1702.4 449.0 L1703.4 449.2 L1704.4 449.8 L1705.4 449.0 L1706.4 449.1 L1707.4 447.4 L1708.4 447.5 L1709.4 448.5 L1710.4 446.6 L1711.4 448.2 L1712.4 446.4 L1713.4 447.9 L1714.4 446.1 L1715.4 448.9 L1716.4 449.0 L1717.4 446.6 L1718.4 448.8 L1719.4 447.1 L1720.4 447.0 L1721.4 447.7 L1722.4 449.0 L1723.4 450.0 L1724.4 447.0 L1725.4 449.0 L1726.4 449.5 L1727.4 448.2 L1728.4 448.3 L1729.4 447.5 L1730.4 446.6 L1731.4 447.9 L1732.4 447.8 L1733.4 449.7 L1734.4 448.6 L1735.4 448.3 L1736.4 447.2 L1737.4 449.2 L1738.4 448.4 L1739.4 447.9 L1740.4 449.2 L1741.4 449.9 L1742.4 449.1 L1743.4 448.4 L1744.4 448.8 L1745.4 447.6 L1746.4 449.4 L1747.4 450.4 L1748.4 448.4 L1749.4 448.7 L1750.4 449.9 L1751.4 448.5 L1752.4 448.0 L1753.4 448.5 L1754.4 449.3 L1755.4 447.6 L1756.4 449.8 L1757.4 450.3 L1758.4 449.4 L1759.4 449.3 L1760.4 447.7 L1761.4 450.3 L1762.4 447.9 L1763.4 450.4 L1764.4 447.7 L1765.4 450.2 L1766.4 448.0 L1767.4 448.0 L1768.4 448.1 L1769.4 449.1 L1770.4 448.9 L1771.4 449.8 L1772.4 447.6 L1773.4 449.6 L1774.4 450.3 L1775.4 448.6 L1776.4 448.4 L1777.4 449.6 L1778.4 451.5 L1779.4 450.2 L1780.4 450.8 L1781.4 448.3 L1782.4 451.7 L1783.4 450.9 L1784.4 449.6 L1785.4 451.6 L1786.4 449.4 L1787.4 451.1 L1788.4 449.4 L1789.4 450.4 L1790.4 452.3 L1791.4 449.6 L1792.4 451.6 L1793.4 449.6 L1794.4 449.2 L1795.4 450.3 L1796.4 451.6 L1797.4 449.0 L1798.4 448.6 L1799.4 451.9 L1800.4 452.0 L1801.4 450.7 L1802.4 450.1 L1803.4 449.2 L1804.4 452.4 L1805.4 449.1 L1806.4 451.1 L1807.4 451.3 L1808.4 450.0 L1809.4 450.4 L1810.4 452.2 L1811.4 452.5 L1812.4 451.0 L1813.4 451.1 L1814.4 449.5 L1815.4 448.9 L1816.4 450.9 L1817.4 449.2 L1818.4 450.4 L1819.4 451.4 L1820.4 452.1 L1821.4 450.4 L1822.4 451.5 L1823.4 449.7 L1824.4 450.7 L1825.4 450.7 L1826.4 449.5 L1827.4 449.3 L1828.4 448.9 L1829.4 449.5 L1830.4 448.3 L1831.4 451.2 L1832.4 451.0 L1833.4 450.7 L1834.4 448.6 L1835.4 452.0 L1836.4 450.5 L1837.4 451.2 L1838.4 452.2 L1839.4 451.8 L1840.4 450.7 L1841.4 449.3 L1842.4 451.5 L1843.4 451.9 L1844.4 451.0 L1845.4 451.8 L1846.4 451.7 L1847.4 450.7 L1848.4 450.9 L1849.4 451.7 L1850.4 452.1 L1851.4 450.8 L1852.4 449.8 L1853.4 451.9 L1854.4 450.7 L1855.4 450.5 L1856.4 449.4 L1857.4 451.5 L1858.4 450.1 L1859.4 449.8 L1860.4 449.3 L1860.4 451.0 L1860.8 451.0 L1861.2 458.5 L1861.8 340.0 L1862.6 207.0 L1863.6 209.9 L1864.6 212.8 L1865.6 216.4 L1866.6 221.9 L1867.6 229.0 L1868.6 236.8 L1869.6 244.5 L1870.6 251.3 L1871.6 257.5 L1872.6 263.6 L1873.6 269.4 L1874.6 274.9 L1875.6 280.1 L1876.6 284.8 L1877.6 289.3 L1878.6 293.7 L1879.6 297.7 L1880.6 301.4 L1881.6 304.8 L1882.6 307.7 L1883.6 310.4 L1884.6 312.9 L1885.6 315.1 L1886.6 317.2 L1887.6 319.6 L1888.6 320.9 L1889.6 323.8 L1890.6 325.1 L1891.6 325.9 L1892.6 327.8 L1893.6 329.3 L1894.6 330.3 L1895.6 330.6 L1896.6 331.7 L1897.6 332.6 L1898.6 333.7 L1899.6 333.9 L1900.6 335.2 L1901.6 335.5 L1902.6 336.3 L1903.6 336.3 L1904.6 338.9 L1905.6 340.0 L1906.6 340.1 L1907.6 338.5 L1908.6 338.2 L1909.6 341.6 L1910.6 341.8 L1911.6 340.9 L1912.6 340.5 L1913.6 343.2 L1914.6 341.3 L1915.6 342.0 L1916.6 342.6 L1917.6 344.7 L1918.6 343.1 L1919.6 343.9 L1920.6 344.0 L1921.6 344.9 L1922.6 346.0 L1923.6 346.3 L1924.6 347.2 L1925.6 344.8 L1926.6 345.0 L1927.6 345.8 L1928.6 347.5 L1929.6 346.6 L1930.6 348.8 L1931.6 347.8 L1932.6 345.9 L1933.6 348.2 L1934.6 349.6 L1935.6 350.1 L1936.6 348.1 L1937.6 350.0 L1938.6 350.4 L1939.6 349.7 L1940.6 350.3 L1941.6 350.1 L1942.6 352.1 L1943.6 349.7 L1944.6 351.4 L1945.6 350.6 L1946.6 351.7 L1947.6 350.7 L1948.6 350.5 L1949.6 352.6 L1950.6 353.4 L1951.6 352.5 L1952.6 352.0 L1953.6 353.3 L1954.6 352.6 L1955.6 352.4 L1956.6 352.6 L1957.6 353.8 L1958.6 352.7 L1959.6 353.5 L1960.6 354.6 L1961.6 353.8 L1962.6 354.6 L1963.6 354.5 L1964.6 352.6 L1965.6 354.0 L1966.6 355.4 L1967.6 356.2 L1968.6 356.5 L1969.6 356.2 L1970.6 355.0 L1971.6 357.6 L1972.6 355.0 L1973.6 356.1 L1974.6 356.0 L1975.6 355.4 L1976.6 357.5 L1977.6 356.4 L1978.6 356.4 L1979.6 359.0 L1980.6 356.6 L1981.6 358.5 L1982.6 357.9 L1983.6 358.0 L1984.6 359.5 L1985.6 357.6 L1986.6 358.5 L1987.6 359.6 L1988.6 359.7 L1989.6 360.1 L1990.6 360.2 L1991.6 359.1 L1992.6 359.6 L1993.6 360.7 L1994.6 360.1 L1995.6 358.1 L1996.6 358.9 L1997.6 358.2 L1998.6 358.9 L1999.6 361.4 L2000.6 361.3 L2001.6 359.3 L2002.6 361.4 L2003.6 360.1 L2004.6 359.6 L2005.6 360.6 L2006.6 359.9 L2007.6 360.4 L2008.6 361.8 L2009.6 360.0 L2010.6 361.0 L2011.6 361.4 L2012.6 361.3 L2013.6 360.6 L2014.6 363.0 L2015.6 361.7 L2016.6 363.7 L2017.6 360.9 L2018.6 363.0 L2019.6 362.7 L2020.6 362.9 L2021.6 362.1 L2022.6 362.2 L2023.6 364.0 L2024.6 362.4 L2025.6 364.7 L2026.6 365.0 L2027.6 362.5 L2028.6 365.1 L2029.6 362.8 L2030.6 362.5 L2031.6 364.7 L2032.6 365.9 L2033.6 365.9 L2034.6 366.1 L2035.6 365.3 L2036.6 364.4 L2037.6 365.7 L2038.6 364.9 L2039.6 364.9 L2040.6 364.9 L2041.6 364.9 L2042.6 362.3 L2043.6 364.5 L2044.6 364.5 L2045.6 363.6 L2046.6 364.1 L2047.6 365.5 L2048.6 364.6 L2049.6 364.3 L2050.6 362.8 L2051.6 363.7 L2052.6 364.8 L2053.6 363.6 L2054.6 364.8 L2055.6 366.3 L2056.6 365.7 L2057.6 366.2 L2058.6 366.3 L2059.6 363.8 L2060.6 363.6 L2061.6 363.8 L2062.6 364.6 L2063.6 366.1 L2064.6 366.7 L2065.6 366.2 L2066.6 365.1 L2067.6 366.5 L2068.6 367.2 L2069.6 365.6 L2070.6 366.3 L2071.6 366.8 L2072.6 367.0 L2073.6 367.4 L2074.6 366.6 L2075.6 367.5 L2076.6 367.5 L2077.6 366.7 L2078.6 366.5 L2079.6 365.2 L2080.6 367.6 L2081.6 368.1 L2082.6 368.0 L2083.6 367.0 L2084.6 366.6 L2085.6 366.6 L2086.6 366.3 L2087.6 365.7 L2088.6 366.6 L2089.6 366.8 L2090.6 367.9 L2091.6 367.0 L2092.6 366.7 L2093.6 368.2 L2094.6 366.7 L2095.6 367.3 L2096.6 367.8 L2097.6 368.9 L2098.6 366.2 L2099.6 369.6 L2100.6 368.5 L2101.6 366.9 L2102.6 366.6 L2103.6 368.2 L2104.6 368.1 L2105.6 368.2 L2106.6 368.0 L2107.6 369.1 L2108.6 366.7 L2109.6 369.2 L2110.6 367.8 L2111.6 366.6 L2112.6 366.9 L2113.6 366.1 L2114.6 366.4 L2115.6 368.7 L2116.6 369.5 L2117.6 367.1 L2118.6 367.3 L2119.6 369.1 L2120.6 368.3 L2121.6 368.5 L2122.6 367.2 L2123.6 367.7 L2124.6 369.0 L2125.6 368.7 L2126.6 368.4 L2127.6 369.8 L2128.6 369.6 L2129.6 369.9 L2130.6 370.6 L2131.6 367.7 L2132.6 368.3 L2133.6 370.0 L2134.6 370.0 L2135.6 370.5 L2136.6 369.8 L2137.6 368.4 L2138.6 368.6 L2139.6 368.0 L2140.6 369.6 L2141.6 368.3 L2142.6 368.1 L2143.6 369.1 L2144.6 369.4 L2145.6 371.1 L2146.6 371.2 L2147.6 370.9 L2148.6 370.5 L2149.6 370.7 L2150.6 368.8 L2151.6 371.2 L2152.6 370.6 L2153.6 368.7 L2154.6 370.4 L2155.6 371.4 L2156.6 370.3 L2157.6 370.7 L2158.6 369.3 L2159.6 370.7 L2160.6 368.3 L2161.6 370.9 L2162.6 370.4 L2163.6 371.1 L2164.6 370.2 L2165.6 371.9 L2166.6 368.9 L2167.6 371.7 L2168.6 372.8 L2169.6 372.2 L2170.6 369.3 L2171.6 369.1 L2172.6 368.9 L2173.6 368.8 L2174.6 368.9 L2175.6 369.3 L2176.6 368.5 L2177.6 368.8 L2178.6 368.4 L2179.6 369.4 L2180.6 371.5 L2181.6 369.9 L2182.6 371.2 L2183.6 370.6 L2184.6 371.1 L2185.6 369.9 L2186.6 370.9 L2187.6 370.3 L2188.6 372.5 L2189.6 371.8 L2190.6 370.5 L2191.6 371.1 L2192.6 372.3 L2193.6 373.1 L2194.6 372.5 L2195.6 370.2 L2196.6 372.2 L2197.6 370.6 L2198.6 372.0 L2199.6 373.8 L2200.6 373.5 L2201.6 370.4 L2202.6 373.4 L2203.6 371.4 L2204.6 374.3 L2205.6 372.7 L2206.6 372.1 L2207.6 374.0 L2208.6 374.7 L2209.6 372.5 L2210.6 373.7 L2211.6 371.0 L2212.6 372.7 L2213.6 372.0 L2214.6 372.2 L2215.6 375.0 L2216.6 372.6 L2217.6 374.2 L2218.6 373.4 L2219.6 374.5 L2220.6 372.3 L2221.6 372.9 L2222.6 374.9 L2223.6 373.9 L2224.6 372.5 L2225.6 372.2 L2226.6 372.2 L2227.6 372.9 L2228.6 373.7 L2229.6 372.5 L2230.6 374.7 L2231.6 375.4 L2232.6 375.7 L2233.6 375.8 L2234.6 374.4 L2235.6 375.1 L2236.6 372.1 L2237.6 374.6 L2238.6 374.0 L2239.6 375.8 L2240.6 373.2 L2241.6 372.2 L2242.6 373.8 L2243.6 374.6 L2244.6 374.7 L2245.6 372.8 L2246.6 374.6 L2247.6 375.3 L2248.6 375.8 L2249.6 374.9 L2250.6 375.6 L2251.6 373.9 L2252.6 373.8 L2253.6 374.2 L2254.6 373.8 L2255.6 375.5 L2256.6 373.3 L2257.6 375.6 L2258.6 373.2 L2259.6 374.0 L2260.6 375.7 L2261.6 374.1 L2262.6 373.2 L2263.6 374.9 L2264.6 374.6 L2265.6 373.5 L2266.6 373.4 L2267.6 375.3 L2268.6 375.9 L2269.6 375.9 L2270.6 373.8 L2271.6 375.5 L2272.6 374.0 L2273.6 374.2 L2274.6 374.3 L2275.6 374.7 L2276.6 374.7 L2277.6 375.9 L2278.6 374.6 L2279.6 373.8 L2280.6 375.1 L2281.6 375.4 L2282.6 373.2 L2283.6 374.6 L2284.6 375.3 L2285.6 374.3 L2286.6 375.8 L2287.6 375.1 L2288.6 376.5 L2289.6 374.4 L2290.6 376.3 L2291.6 376.5 L2292.6 376.1 L2293.6 374.2 L2294.6 375.1 L2295.6 375.4 L2296.6 376.6 L2297.6 375.4 L2298.6 376.1 L2299.6 376.1 L2300.6 376.4 L2301.6 374.9 L2302.6 374.5 L2303.6 374.4 L2304.6 375.0 L2305.6 376.9 L2306.6 374.5 L2307.6 375.2 L2308.6 377.0 L2309.6 374.4 L2310.6 375.6 L2311.6 376.6 L2312.6 373.8 L2313.6 375.0 L2314.6 374.8 L2315.6 373.9 L2316.6 374.5 L2317.6 375.3 L2318.6 374.5 L2319.6 375.8 L2320.6 375.1 L2321.6 374.6 L2322.6 377.1 L2323.6 376.0 L2324.6 377.4 L2325.6 374.2 L2326.6 375.0 L2327.6 374.9 L2328.6 377.4 L2329.6 374.1 L2330.6 376.0 L2331.6 374.4 L2332.6 374.2 L2333.6 373.7 L2334.6 376.5 L2335.6 375.8 L2336.6 374.1 L2337.6 375.6 L2338.6 375.9 L2339.6 376.7 L2340.6 377.1 L2341.6 375.1 L2342.6 376.9 L2343.6 375.7 L2344.6 374.6 L2345.6 374.4 L2346.6 374.3 L2347.6 376.4 L2348.6 377.9 L2349.6 376.3 L2350.6 377.6 L2351.6 376.7 L2352.6 378.5 L2353.6 376.0 L2354.6 376.0 L2355.6 376.7 L2356.6 378.6 L2357.6 379.0 L2358.6 376.2 L2359.6 378.0 L2360.6 377.6 L2361.6 376.5 L2362.6 379.4 L2363.6 378.1 L2364.6 378.6 L2365.6 376.3 L2366.6 376.4 L2367.6 378.7 L2368.6 378.3 L2369.6 377.3 L2370.6 378.5 L2371.0 376.7" fill="none" stroke="#ff3333" stroke-width="7.8" stroke-linejoin="round" stroke-linecap="round"/>
<path d="M337.6 1043.0 L338.4 1200.0 L339.4 1330.0 L340.6 1365.5 L341.6 1363.1 L342.6 1360.8 L343.6 1357.6 L344.6 1352.5 L345.6 1345.8 L346.6 1338.7 L347.6 1332.1 L348.6 1325.4 L349.6 1318.6 L350.6 1311.7 L351.6 1304.6 L352.6 1297.4 L353.6 1290.2 L354.6 1283.3 L355.6 1276.5 L356.6 1269.9 L357.6 1263.7 L358.6 1258.5 L359.6 1253.9 L360.6 1249.8 L361.6 1246.2 L362.6 1243.3 L363.6 1240.8 L364.6 1238.5 L365.6 1236.5 L366.6 1235.3 L367.6 1233.2 L368.6 1231.5 L369.6 1230.5 L370.6 1228.9 L371.6 1227.9 L372.6 1228.2 L373.6 1227.0 L374.6 1225.7 L375.6 1226.8 L376.6 1225.0 L377.6 1224.6 L378.6 1224.2 L379.6 1222.8 L380.6 1222.8 L381.6 1221.7 L382.6 1222.4 L383.6 1221.5 L384.6 1219.9 L385.6 1218.9 L386.6 1219.2 L387.6 1218.1 L388.6 1218.0 L389.6 1216.3 L390.6 1215.9 L391.6 1217.5 L392.6 1214.3 L393.6 1216.5 L394.6 1215.7 L395.6 1215.4 L396.6 1212.2 L397.6 1213.3 L398.6 1211.9 L399.6 1212.4 L400.6 1212.8 L401.6 1212.2 L402.6 1209.7 L403.6 1210.6 L404.6 1211.2 L405.6 1209.3 L406.6 1209.5 L407.6 1207.5 L408.6 1207.5 L409.6 1206.4 L410.6 1205.9 L411.6 1204.8 L412.6 1205.2 L413.6 1203.6 L414.6 1203.4 L415.6 1202.4 L416.6 1203.0 L417.6 1201.5 L418.6 1200.6 L419.6 1201.9 L420.6 1200.0 L421.6 1201.0 L422.6 1198.9 L423.6 1199.7 L424.6 1199.2 L425.6 1198.6 L426.6 1199.5 L427.6 1198.1 L428.6 1198.9 L429.6 1197.2 L430.6 1199.1 L431.6 1198.6 L432.6 1199.2 L433.6 1196.3 L434.6 1198.6 L435.6 1198.1 L436.6 1197.1 L437.6 1197.0 L438.6 1197.2 L439.6 1196.7 L440.6 1195.0 L441.6 1196.2 L442.6 1197.5 L443.6 1196.6 L444.6 1194.7 L445.6 1194.5 L446.6 1196.4 L447.6 1195.5 L448.6 1193.9 L449.6 1194.6 L450.6 1193.4 L451.6 1194.7 L452.6 1191.3 L453.6 1191.8 L454.6 1193.2 L455.6 1190.6 L456.6 1191.6 L457.6 1189.5 L458.6 1191.8 L459.6 1191.3 L460.6 1191.1 L461.6 1189.6 L462.6 1190.4 L463.6 1190.1 L464.6 1188.7 L465.6 1187.3 L466.6 1188.6 L467.6 1187.5 L468.6 1188.3 L469.6 1188.3 L470.6 1186.4 L471.6 1186.0 L472.6 1186.7 L473.6 1187.4 L474.6 1185.2 L475.6 1185.9 L476.6 1187.4 L477.6 1186.3 L478.6 1185.1 L479.6 1186.3 L480.6 1186.1 L481.6 1184.7 L482.6 1185.3 L483.6 1186.4 L484.6 1184.7 L485.6 1184.3 L486.6 1183.8 L487.6 1184.7 L488.6 1185.2 L489.6 1184.5 L490.6 1185.5 L491.6 1184.1 L492.6 1183.4 L493.6 1182.5 L494.6 1184.5 L495.6 1182.5 L496.6 1181.6 L497.6 1180.8 L498.6 1182.5 L499.6 1183.4 L500.6 1183.0 L501.6 1183.4 L502.6 1180.6 L503.6 1182.2 L504.6 1181.2 L505.6 1182.6 L506.6 1181.3 L507.6 1181.0 L508.6 1183.2 L509.6 1180.5 L510.6 1180.6 L511.6 1180.7 L512.6 1179.4 L513.6 1181.5 L514.6 1181.5 L515.6 1179.8 L516.6 1182.1 L517.6 1181.7 L518.6 1179.6 L519.6 1179.0 L520.6 1181.3 L521.6 1178.4 L522.6 1181.2 L523.6 1180.0 L524.6 1177.9 L525.6 1179.3 L526.6 1178.2 L527.6 1178.7 L528.6 1177.8 L529.6 1178.1 L530.6 1177.4 L531.6 1180.1 L532.6 1178.0 L533.6 1179.3 L534.6 1179.0 L535.6 1177.4 L536.6 1179.8 L537.6 1179.7 L538.6 1177.8 L539.6 1179.4 L540.6 1178.5 L541.6 1178.9 L542.6 1179.2 L543.6 1178.8 L544.6 1179.7 L545.6 1177.2 L546.6 1178.0 L547.6 1177.5 L548.6 1177.4 L549.6 1177.4 L550.6 1176.5 L551.6 1177.3 L552.6 1177.7 L553.6 1177.4 L554.6 1177.1 L555.6 1177.3 L556.6 1178.3 L557.6 1178.3 L558.6 1177.9 L559.6 1177.4 L560.6 1177.5 L561.6 1176.6 L562.6 1176.3 L563.6 1175.0 L564.6 1175.8 L565.6 1177.0 L566.6 1176.2 L567.6 1176.7 L568.6 1175.5 L569.6 1177.0 L570.6 1177.6 L571.6 1177.0 L572.6 1176.5 L573.6 1177.4 L574.6 1177.8 L575.6 1176.6 L576.6 1175.7 L577.6 1177.7 L578.6 1175.0 L579.6 1174.9 L580.6 1176.4 L581.6 1177.0 L582.6 1177.1 L583.6 1177.9 L584.6 1175.0 L585.6 1175.3 L586.6 1175.2 L587.6 1177.1 L588.6 1175.7 L589.6 1176.7 L590.6 1175.4 L591.6 1174.2 L592.6 1175.0 L593.6 1176.7 L594.6 1175.3 L595.6 1176.6 L596.6 1174.6 L597.6 1175.0 L598.6 1176.4 L599.6 1174.9 L600.6 1174.7 L601.6 1175.7 L602.6 1174.4 L603.6 1176.9 L604.6 1174.0 L605.6 1176.3 L606.6 1176.3 L607.6 1173.8 L608.6 1175.6 L609.6 1173.3 L610.6 1174.1 L611.6 1176.3 L612.6 1173.4 L613.6 1172.4 L614.6 1175.3 L615.6 1174.4 L616.6 1172.8 L617.6 1173.7 L618.6 1172.7 L619.6 1175.0 L620.6 1173.5 L621.6 1174.5 L622.6 1174.5 L623.6 1174.7 L624.6 1173.6 L625.6 1175.0 L626.6 1175.1 L627.6 1172.7 L628.6 1172.2 L629.6 1172.6 L630.6 1172.2 L631.6 1175.5 L632.6 1174.8 L633.6 1174.6 L634.6 1173.8 L635.6 1173.9 L636.6 1172.6 L637.6 1173.6 L638.6 1175.2 L639.6 1174.9 L640.6 1172.6 L641.6 1172.4 L642.6 1172.9 L643.6 1173.2 L644.6 1171.1 L645.6 1170.2 L646.6 1172.2 L647.6 1173.9 L648.6 1172.8 L649.6 1172.5 L650.6 1173.3 L651.6 1172.2 L652.6 1170.9 L653.6 1171.7 L654.6 1172.3 L655.6 1171.7 L656.6 1172.0 L657.6 1171.8 L658.6 1172.0 L659.6 1170.7 L660.6 1171.6 L661.6 1171.9 L662.6 1172.1 L663.6 1170.0 L664.6 1170.3 L665.6 1169.3 L666.6 1169.4 L667.6 1169.2 L668.6 1170.9 L669.6 1169.9 L670.6 1169.8 L671.6 1170.6 L672.6 1168.6 L673.6 1168.6 L674.6 1169.2 L675.6 1169.2 L676.6 1170.6 L677.6 1169.4 L678.6 1168.0 L679.6 1167.4 L680.6 1168.5 L681.6 1169.4 L682.6 1168.2 L683.6 1168.8 L684.6 1169.5 L685.6 1167.7 L686.6 1167.4 L687.6 1167.6 L688.6 1166.9 L689.6 1167.1 L690.6 1168.9 L691.6 1167.0 L692.6 1166.6 L693.6 1168.5 L694.6 1166.3 L695.6 1168.7 L696.6 1166.4 L697.6 1166.3 L698.6 1167.9 L699.6 1167.3 L700.6 1166.4 L701.6 1167.7 L702.6 1168.3 L703.6 1168.8 L704.6 1169.6 L705.6 1167.4 L706.6 1170.1 L707.6 1166.9 L708.6 1168.8 L709.6 1166.3 L710.6 1168.1 L711.6 1166.2 L712.6 1165.6 L713.6 1167.6 L714.6 1168.3 L715.6 1167.6 L716.6 1168.2 L717.6 1167.3 L718.6 1167.1 L719.6 1165.6 L720.6 1167.3 L721.6 1167.7 L722.6 1167.9 L723.6 1166.8 L724.6 1166.5 L725.6 1164.5 L726.6 1164.4 L727.6 1165.7 L728.6 1166.4 L729.6 1166.8 L730.6 1165.9 L731.6 1164.2 L732.6 1166.3 L733.6 1164.5 L734.6 1165.8 L735.6 1165.9 L736.6 1166.9 L737.6 1165.2 L738.6 1164.4 L739.6 1165.9 L740.6 1165.9 L741.6 1167.1 L742.6 1164.8 L743.6 1166.1 L744.6 1165.0 L745.6 1164.6 L746.6 1165.2 L747.6 1167.0 L748.6 1165.0 L749.6 1166.9 L750.6 1166.0 L751.6 1167.0 L752.6 1166.5 L753.6 1164.7 L754.6 1166.3 L755.6 1165.2 L756.6 1165.6 L757.6 1165.3 L758.6 1166.8 L759.6 1164.6 L760.6 1166.6 L761.6 1165.2 L762.6 1165.8 L763.6 1166.7 L764.6 1164.2 L765.6 1166.0 L766.6 1165.3 L767.6 1166.5 L768.6 1166.7 L769.6 1164.8 L770.6 1164.2 L771.6 1165.9 L772.6 1164.4 L773.6 1166.5 L774.6 1164.2 L775.6 1164.7 L776.6 1164.3 L777.6 1165.5 L778.6 1163.1 L779.6 1166.3 L780.6 1164.9 L781.6 1165.4 L782.6 1164.8 L783.6 1162.1 L784.6 1162.9 L785.6 1162.5 L786.6 1164.8 L787.6 1161.9 L788.6 1163.9 L789.6 1164.6 L790.6 1163.8 L791.6 1162.3 L792.6 1164.9 L793.6 1164.9 L794.6 1164.4 L795.6 1164.1 L796.6 1162.1 L797.6 1163.4 L798.6 1161.5 L799.6 1163.6 L800.6 1163.4 L801.6 1164.3 L802.6 1162.3 L803.6 1161.4 L804.6 1163.0 L805.6 1161.6 L806.6 1160.7 L807.6 1161.2 L808.6 1163.4 L809.6 1161.2 L810.6 1162.6 L811.6 1164.2 L812.6 1161.8 L813.6 1163.1 L814.6 1162.2 L815.6 1162.7 L816.6 1164.3 L817.6 1163.7 L818.6 1161.4 L819.6 1162.7 L820.6 1161.6 L821.6 1161.3 L822.6 1161.4 L823.6 1161.1 L824.6 1161.0 L825.6 1161.9 L826.6 1163.1 L827.6 1162.6 L828.6 1161.6 L829.6 1161.2 L830.6 1163.7 L831.6 1162.2 L832.6 1163.7 L833.6 1162.0 L834.6 1162.2 L835.6 1163.2 L836.6 1160.6 L837.6 1162.2 L838.6 1161.7 L839.6 1159.4 L840.6 1161.2 L841.6 1159.9 L842.6 1161.9 L843.6 1161.4 L843.6 1161.0 L844.2 1161.0 L845.4 1148.5 L846.6 1300.0 L848.4 1483.5 L849.4 1481.3 L850.4 1479.2 L851.4 1476.3 L852.4 1471.5 L853.4 1464.3 L854.4 1456.4 L855.4 1449.2 L856.4 1442.4 L857.4 1435.5 L858.4 1428.4 L859.4 1420.9 L860.4 1412.7 L861.4 1404.3 L862.4 1396.3 L863.4 1389.3 L864.4 1382.7 L865.4 1376.6 L866.4 1370.9 L867.4 1366.0 L868.4 1361.6 L869.4 1357.6 L870.4 1354.0 L871.4 1350.7 L872.4 1347.9 L873.4 1345.3 L874.4 1343.0 L875.4 1341.0 L876.4 1339.5 L877.4 1338.3 L878.4 1336.1 L879.4 1336.4 L880.4 1335.3 L881.4 1333.2 L882.4 1333.0 L883.4 1331.4 L884.4 1330.8 L885.4 1329.9 L886.4 1329.3 L887.4 1329.6 L888.4 1328.4 L889.4 1326.7 L890.4 1326.5 L891.4 1324.0 L892.4 1326.7 L893.4 1324.8 L894.4 1325.2 L895.4 1324.0 L896.4 1321.8 L897.4 1321.8 L898.4 1323.3 L899.4 1322.9 L900.4 1323.4 L901.4 1322.5 L902.4 1321.3 L903.4 1320.3 L904.4 1319.7 L905.4 1319.4 L906.4 1320.8 L907.4 1318.1 L908.4 1319.7 L909.4 1319.2 L910.4 1319.7 L911.4 1320.2 L912.4 1319.5 L913.4 1317.8 L914.4 1316.5 L915.4 1318.4 L916.4 1316.3 L917.4 1317.2 L918.4 1316.1 L919.4 1315.4 L920.4 1317.4 L921.4 1315.2 L922.4 1314.8 L923.4 1313.9 L924.4 1314.6 L925.4 1315.0 L926.4 1316.7 L927.4 1315.7 L928.4 1315.7 L929.4 1314.8 L930.4 1313.7 L931.4 1314.9 L932.4 1314.2 L933.4 1314.3 L934.4 1315.9 L935.4 1314.2 L936.4 1313.3 L937.4 1314.4 L938.4 1313.5 L939.4 1315.4 L940.4 1312.7 L941.4 1315.2 L942.4 1313.2 L943.4 1313.6 L944.4 1313.7 L945.4 1315.2 L946.4 1314.9 L947.4 1315.2 L948.4 1312.7 L949.4 1314.8 L950.4 1312.9 L951.4 1314.5 L952.4 1314.1 L953.4 1315.0 L954.4 1314.4 L955.4 1311.7 L956.4 1312.0 L957.4 1312.7 L958.4 1313.4 L959.4 1312.5 L960.4 1313.3 L961.4 1310.3 L962.4 1312.7 L963.4 1312.0 L964.4 1311.9 L965.4 1312.4 L966.4 1309.6 L967.4 1310.1 L968.4 1311.6 L969.4 1311.1 L970.4 1311.8 L971.4 1310.3 L972.4 1312.0 L973.4 1309.3 L974.4 1311.9 L975.4 1309.3 L976.4 1308.2 L977.4 1308.1 L978.4 1311.1 L979.4 1310.1 L980.4 1308.6 L981.4 1311.1 L982.4 1310.9 L983.4 1307.5 L984.4 1310.4 L985.4 1307.9 L986.4 1307.5 L987.4 1307.5 L988.4 1305.7 L989.4 1308.0 L990.4 1305.8 L991.4 1305.6 L992.4 1306.4 L993.4 1306.9 L994.4 1306.3 L995.4 1305.2 L996.4 1304.6 L997.4 1305.4 L998.4 1305.5 L999.4 1303.3 L1000.4 1304.1 L1001.4 1304.3 L1002.4 1305.1 L1003.4 1305.2 L1004.4 1304.5 L1005.4 1302.4 L1006.4 1303.2 L1007.4 1304.1 L1008.4 1304.8 L1009.4 1302.6 L1010.4 1302.9 L1011.4 1305.3 L1012.4 1304.6 L1013.4 1302.5 L1014.4 1303.7 L1015.4 1305.1 L1016.4 1305.2 L1017.4 1304.3 L1018.4 1304.4 L1019.4 1301.7 L1020.4 1304.3 L1021.4 1304.2 L1022.4 1304.6 L1023.4 1303.0 L1024.4 1302.2 L1025.4 1303.3 L1026.4 1301.4 L1027.4 1300.4 L1028.4 1302.0 L1029.4 1303.1 L1030.4 1300.8 L1031.4 1303.5 L1032.4 1300.8 L1033.4 1300.1 L1034.4 1299.7 L1035.4 1301.4 L1036.4 1301.7 L1037.4 1301.3 L1038.4 1301.8 L1039.4 1302.2 L1040.4 1299.0 L1041.4 1300.1 L1042.4 1299.9 L1043.4 1301.4 L1044.4 1300.8 L1045.4 1300.1 L1046.4 1298.9 L1047.4 1300.8 L1048.4 1298.3 L1049.4 1299.4 L1050.4 1299.4 L1051.4 1298.7 L1052.4 1298.2 L1053.4 1298.7 L1054.4 1298.9 L1055.4 1297.8 L1056.4 1297.6 L1057.4 1298.4 L1058.4 1298.0 L1059.4 1297.2 L1060.4 1297.1 L1061.4 1296.9 L1062.4 1295.9 L1063.4 1296.6 L1064.4 1297.8 L1065.4 1297.1 L1066.4 1298.0 L1067.4 1295.8 L1068.4 1298.2 L1069.4 1297.0 L1070.4 1299.4 L1071.4 1297.5 L1072.4 1298.0 L1073.4 1298.6 L1074.4 1297.2 L1075.4 1295.5 L1076.4 1297.1 L1077.4 1296.8 L1078.4 1297.9 L1079.4 1295.7 L1080.4 1295.3 L1081.4 1296.1 L1082.4 1296.7 L1083.4 1295.7 L1084.4 1295.0 L1085.4 1296.6 L1086.4 1297.7 L1087.4 1295.4 L1088.4 1297.7 L1089.4 1297.1 L1090.4 1297.9 L1091.4 1295.1 L1092.4 1297.7 L1093.4 1297.5 L1094.4 1294.4 L1095.4 1294.2 L1096.4 1296.4 L1097.4 1296.8 L1098.4 1294.2 L1099.4 1294.5 L1100.4 1294.5 L1101.4 1295.8 L1102.4 1294.7 L1103.4 1295.7 L1104.4 1295.3 L1105.4 1295.4 L1106.4 1294.3 L1107.4 1294.2 L1108.4 1293.8 L1109.4 1294.8 L1110.4 1295.5 L1111.4 1296.4 L1112.4 1295.5 L1113.4 1296.6 L1114.4 1294.2 L1115.4 1295.0 L1116.4 1293.7 L1117.4 1295.6 L1118.4 1293.4 L1119.4 1295.6 L1120.4 1293.9 L1121.4 1294.5 L1122.4 1292.6 L1123.4 1293.2 L1124.4 1294.1 L1125.4 1294.1 L1126.4 1292.8 L1127.4 1292.7 L1128.4 1291.9 L1129.4 1294.1 L1130.4 1294.1 L1131.4 1292.2 L1132.4 1292.5 L1133.4 1292.2 L1134.4 1292.6 L1135.4 1293.1 L1136.4 1292.4 L1137.4 1292.4 L1138.4 1294.5 L1139.4 1295.3 L1140.4 1294.1 L1141.4 1293.5 L1142.4 1293.0 L1143.4 1294.4 L1144.4 1292.5 L1145.4 1292.0 L1146.4 1292.5 L1147.4 1291.7 L1148.4 1293.8 L1149.4 1294.1 L1150.4 1292.7 L1151.4 1293.8 L1152.4 1295.1 L1153.4 1293.8 L1154.4 1292.8 L1155.4 1292.7 L1156.4 1294.7 L1157.4 1294.3 L1158.4 1294.7 L1159.4 1295.0 L1160.4 1294.9 L1161.4 1292.4 L1162.4 1295.0 L1163.4 1294.8 L1164.4 1294.1 L1165.4 1294.1 L1166.4 1292.9 L1167.4 1292.8 L1168.4 1290.7 L1169.4 1291.5 L1170.4 1291.5 L1171.4 1293.2 L1172.4 1292.8 L1173.4 1291.7 L1174.4 1293.6 L1175.4 1293.5 L1176.4 1293.7 L1177.4 1291.5 L1178.4 1289.9 L1179.4 1291.3 L1180.4 1292.3 L1181.4 1290.9 L1182.4 1289.6 L1183.4 1290.7 L1184.4 1292.0 L1185.4 1289.5 L1186.4 1291.2 L1187.4 1290.7 L1188.4 1291.9 L1189.4 1289.9 L1190.4 1292.0 L1191.4 1290.9 L1192.4 1292.9 L1193.4 1292.8 L1194.4 1290.7 L1195.4 1292.0 L1196.4 1292.6 L1197.4 1291.0 L1198.4 1291.3 L1199.4 1291.1 L1200.4 1291.5 L1201.4 1290.7 L1202.4 1292.5 L1203.4 1291.5 L1204.4 1292.4 L1205.4 1290.7 L1206.4 1291.7 L1207.4 1292.0 L1208.4 1290.9 L1209.4 1289.7 L1210.4 1289.8 L1211.4 1291.5 L1212.4 1290.4 L1213.4 1291.1 L1214.4 1291.9 L1215.4 1290.7 L1216.4 1291.6 L1217.4 1291.4 L1218.4 1291.4 L1219.4 1291.3 L1220.4 1292.8 L1221.4 1291.8 L1222.4 1292.3 L1223.4 1291.2 L1224.4 1289.4 L1225.4 1291.6 L1226.4 1289.0 L1227.4 1289.0 L1228.4 1290.8 L1229.4 1290.0 L1230.4 1291.4 L1231.4 1291.2 L1232.4 1291.0 L1233.4 1288.3 L1234.4 1289.8 L1235.4 1288.2 L1236.4 1288.1 L1237.4 1291.2 L1238.4 1287.9 L1239.4 1290.3 L1240.4 1289.2 L1241.4 1288.8 L1242.4 1290.2 L1243.4 1290.2 L1244.4 1288.5 L1245.4 1290.2 L1246.4 1290.2 L1247.4 1290.1 L1248.4 1289.8 L1249.4 1289.1 L1250.4 1289.8 L1251.4 1289.8 L1252.4 1290.8 L1253.4 1289.9 L1254.4 1288.2 L1255.4 1289.7 L1256.4 1290.0 L1257.4 1288.5 L1258.4 1288.4 L1259.4 1288.4 L1260.4 1287.7 L1261.4 1287.4 L1262.4 1286.8 L1263.4 1289.4 L1264.4 1289.0 L1265.4 1288.5 L1266.4 1288.7 L1267.4 1286.7 L1268.4 1288.9 L1269.4 1286.6 L1270.4 1289.1 L1271.4 1287.5 L1272.4 1287.7 L1273.4 1289.0 L1274.4 1289.8 L1275.4 1286.6 L1276.4 1288.9 L1277.4 1287.3 L1278.4 1286.9 L1279.4 1286.9 L1280.4 1290.1 L1281.4 1287.7 L1282.4 1287.9 L1283.4 1287.1 L1284.4 1288.2 L1285.4 1287.0 L1286.4 1287.3 L1287.4 1286.5 L1288.4 1289.3 L1289.4 1286.3 L1290.4 1288.2 L1291.4 1288.4 L1292.4 1287.7 L1293.4 1288.7 L1294.4 1287.6 L1295.4 1288.1 L1296.4 1286.9 L1297.4 1288.6 L1298.4 1288.5 L1299.4 1286.6 L1300.4 1287.8 L1301.4 1288.6 L1302.4 1285.6 L1303.4 1286.7 L1304.4 1287.4 L1305.4 1288.0 L1306.4 1287.8 L1307.4 1286.2 L1308.4 1288.1 L1309.4 1286.6 L1310.4 1286.8 L1311.4 1287.6 L1312.4 1289.2 L1313.4 1287.0 L1314.4 1287.9 L1315.4 1288.9 L1316.4 1287.1 L1317.4 1287.2 L1318.4 1285.8 L1319.4 1285.5 L1320.4 1287.3 L1321.4 1287.6 L1322.4 1286.7 L1323.4 1286.2 L1324.4 1286.8 L1325.4 1287.1 L1326.4 1286.2 L1327.4 1285.1 L1328.4 1285.2 L1329.4 1285.9 L1330.4 1285.7 L1331.4 1284.6 L1332.4 1285.5 L1333.4 1285.6 L1334.4 1287.1 L1335.4 1284.6 L1336.4 1287.1 L1337.4 1285.5 L1338.4 1287.2 L1339.4 1286.0 L1340.4 1284.4 L1341.4 1283.7 L1342.4 1284.6 L1343.4 1283.7 L1344.4 1284.5 L1345.4 1284.6 L1346.4 1283.2 L1347.4 1285.0 L1348.4 1285.1 L1349.4 1284.0 L1350.4 1284.0 L1350.6 1285.0 L1351.2 1285.0 L1352.6 1273.5 L1354.0 1380.0 L1356.6 1475.5 L1357.6 1473.3 L1358.6 1473.0 L1359.6 1469.8 L1360.6 1465.7 L1361.6 1460.1 L1362.6 1454.2 L1363.6 1449.0 L1364.6 1444.0 L1365.6 1439.0 L1366.6 1434.0 L1367.6 1429.1 L1368.6 1424.0 L1369.6 1419.0 L1370.6 1414.2 L1371.6 1409.7 L1372.6 1405.7 L1373.6 1401.9 L1374.6 1398.3 L1375.6 1395.0 L1376.6 1392.1 L1377.6 1389.4 L1378.6 1386.9 L1379.6 1384.5 L1380.6 1382.4 L1381.6 1380.6 L1382.6 1379.3 L1383.6 1377.1 L1384.6 1376.2 L1385.6 1376.0 L1386.6 1373.4 L1387.6 1374.2 L1388.6 1373.3 L1389.6 1372.1 L1390.6 1371.1 L1391.6 1370.6 L1392.6 1369.3 L1393.6 1367.9 L1394.6 1367.9 L1395.6 1366.3 L1396.6 1366.0 L1397.6 1365.8 L1398.6 1364.6 L1399.6 1364.9 L1400.6 1362.4 L1401.6 1363.8 L1402.6 1363.3 L1403.6 1361.5 L1404.6 1363.4 L1405.6 1361.7 L1406.6 1361.2 L1407.6 1361.0 L1408.6 1360.1 L1409.6 1360.8 L1410.6 1359.2 L1411.6 1360.7 L1412.6 1360.0 L1413.6 1358.8 L1414.6 1359.8 L1415.6 1360.3 L1416.6 1359.0 L1417.6 1359.9 L1418.6 1358.5 L1419.6 1357.0 L1420.6 1358.0 L1421.6 1358.5 L1422.6 1356.9 L1423.6 1356.4 L1424.6 1357.9 L1425.6 1357.0 L1426.6 1358.7 L1427.6 1358.4 L1428.6 1356.8 L1429.6 1356.8 L1430.6 1356.6 L1431.6 1357.1 L1432.6 1357.4 L1433.6 1356.2 L1434.6 1356.9 L1435.6 1355.9 L1436.6 1354.0 L1437.6 1356.1 L1438.6 1355.2 L1439.6 1355.6 L1440.6 1353.2 L1441.6 1353.3 L1442.6 1354.5 L1443.6 1353.5 L1444.6 1354.0 L1445.6 1352.4 L1446.6 1353.5 L1447.6 1353.7 L1448.6 1351.9 L1449.6 1352.0 L1450.6 1351.9 L1451.6 1353.4 L1452.6 1353.4 L1453.6 1353.8 L1454.6 1351.8 L1455.6 1353.2 L1456.6 1353.6 L1457.6 1353.2 L1458.6 1353.5 L1459.6 1353.0 L1460.6 1353.3 L1461.6 1351.5 L1462.6 1351.3 L1463.6 1353.1 L1464.6 1351.7 L1465.6 1352.5 L1466.6 1351.0 L1467.6 1351.6 L1468.6 1353.6 L1469.6 1351.2 L1470.6 1352.9 L1471.6 1350.2 L1472.6 1351.6 L1473.6 1349.5 L1474.6 1350.0 L1475.6 1351.6 L1476.6 1352.7 L1477.6 1351.2 L1478.6 1350.4 L1479.6 1349.4 L1480.6 1352.1 L1481.6 1349.3 L1482.6 1350.3 L1483.6 1350.4 L1484.6 1349.6 L1485.6 1351.1 L1486.6 1348.8 L1487.6 1350.0 L1488.6 1351.1 L1489.6 1350.2 L1490.6 1350.6 L1491.6 1349.7 L1492.6 1348.8 L1493.6 1350.7 L1494.6 1348.8 L1495.6 1346.9 L1496.6 1348.8 L1497.6 1350.2 L1498.6 1348.9 L1499.6 1347.6 L1500.6 1347.8 L1501.6 1350.2 L1502.6 1350.7 L1503.6 1347.6 L1504.6 1347.4 L1505.6 1348.0 L1506.6 1349.6 L1507.6 1349.6 L1508.6 1348.4 L1509.6 1347.1 L1510.6 1347.8 L1511.6 1347.7 L1512.6 1347.3 L1513.6 1348.1 L1514.6 1346.7 L1515.6 1349.9 L1516.6 1347.2 L1517.6 1347.1 L1518.6 1347.9 L1519.6 1347.3 L1520.6 1348.6 L1521.6 1348.1 L1522.6 1347.1 L1523.6 1347.1 L1524.6 1346.7 L1525.6 1348.6 L1526.6 1348.4 L1527.6 1347.1 L1528.6 1346.6 L1529.6 1346.8 L1530.6 1348.0 L1531.6 1348.4 L1532.6 1349.6 L1533.6 1347.3 L1534.6 1347.2 L1535.6 1348.3 L1536.6 1348.1 L1537.6 1347.8 L1538.6 1346.6 L1539.6 1347.4 L1540.6 1349.5 L1541.6 1347.2 L1542.6 1346.9 L1543.6 1349.0 L1544.6 1348.5 L1545.6 1348.8 L1546.6 1345.7 L1547.6 1346.3 L1548.6 1346.2 L1549.6 1346.0 L1550.6 1346.5 L1551.6 1348.0 L1552.6 1347.5 L1553.6 1346.4 L1554.6 1345.8 L1555.6 1345.5 L1556.6 1345.7 L1557.6 1346.7 L1558.6 1346.7 L1559.6 1347.6 L1560.6 1346.2 L1561.6 1346.8 L1562.6 1346.6 L1563.6 1347.4 L1564.6 1346.0 L1565.6 1345.7 L1566.6 1347.3 L1567.6 1346.4 L1568.6 1343.8 L1569.6 1346.0 L1570.6 1346.0 L1571.6 1345.3 L1572.6 1345.5 L1573.6 1345.5 L1574.6 1346.3 L1575.6 1347.0 L1576.6 1346.8 L1577.6 1344.8 L1578.6 1346.0 L1579.6 1344.8 L1580.6 1344.2 L1581.6 1346.6 L1582.6 1345.4 L1583.6 1344.2 L1584.6 1346.7 L1585.6 1345.9 L1586.6 1346.7 L1587.6 1344.2 L1588.6 1344.4 L1589.6 1345.5 L1590.6 1344.8 L1591.6 1345.4 L1592.6 1343.9 L1593.6 1345.0 L1594.6 1345.3 L1595.6 1346.1 L1596.6 1345.3 L1597.6 1345.1 L1598.6 1344.0 L1599.6 1345.4 L1600.6 1344.7 L1601.6 1346.1 L1602.6 1343.8 L1603.6 1344.5 L1604.6 1343.6 L1605.6 1342.0 L1606.6 1344.6 L1607.6 1344.6 L1608.6 1344.8 L1609.6 1343.3 L1610.6 1343.5 L1611.6 1343.9 L1612.6 1341.8 L1613.6 1343.7 L1614.6 1342.6 L1615.6 1343.7 L1616.6 1342.6 L1617.6 1341.6 L1618.6 1342.3 L1619.6 1344.4 L1620.6 1345.0 L1621.6 1344.9 L1622.6 1344.5 L1623.6 1341.9 L1624.6 1342.8 L1625.6 1342.5 L1626.6 1341.4 L1627.6 1344.5 L1628.6 1343.6 L1629.6 1343.2 L1630.6 1342.3 L1631.6 1343.2 L1632.6 1342.6 L1633.6 1340.8 L1634.6 1341.5 L1635.6 1343.2 L1636.6 1342.5 L1637.6 1342.5 L1638.6 1343.2 L1639.6 1343.3 L1640.6 1344.0 L1641.6 1341.8 L1642.6 1341.2 L1643.6 1341.3 L1644.6 1341.1 L1645.6 1341.2 L1646.6 1340.6 L1647.6 1343.5 L1648.6 1341.7 L1649.6 1343.6 L1650.6 1343.6 L1651.6 1340.6 L1652.6 1341.5 L1653.6 1342.5 L1654.6 1340.2 L1655.6 1340.7 L1656.6 1340.2 L1657.6 1342.0 L1658.6 1341.3 L1659.6 1340.2 L1660.6 1340.6 L1661.6 1343.2 L1662.6 1341.7 L1663.6 1341.7 L1664.6 1339.7 L1665.6 1341.0 L1666.6 1339.6 L1667.6 1341.6 L1668.6 1340.4 L1669.6 1342.3 L1670.6 1339.6 L1671.6 1341.8 L1672.6 1340.5 L1673.6 1340.1 L1674.6 1342.1 L1675.6 1339.7 L1676.6 1338.8 L1677.6 1340.8 L1678.6 1338.5 L1679.6 1338.6 L1680.6 1341.6 L1681.6 1339.1 L1682.6 1339.7 L1683.6 1339.6 L1684.6 1341.0 L1685.6 1340.8 L1686.6 1339.9 L1687.6 1338.9 L1688.6 1340.3 L1689.6 1338.2 L1690.6 1339.2 L1691.6 1340.5 L1692.6 1340.1 L1693.6 1338.6 L1694.6 1339.5 L1695.6 1340.5 L1696.6 1339.9 L1697.6 1338.5 L1698.6 1338.8 L1699.6 1340.1 L1700.6 1339.2 L1701.6 1339.4 L1702.6 1337.8 L1703.6 1338.8 L1704.6 1338.1 L1705.6 1337.6 L1706.6 1337.2 L1707.6 1337.3 L1708.6 1338.9 L1709.6 1339.8 L1710.6 1340.8 L1711.6 1338.4 L1712.6 1339.8 L1713.6 1339.1 L1714.6 1339.4 L1715.6 1341.4 L1716.6 1338.3 L1717.6 1339.8 L1718.6 1341.6 L1719.6 1341.2 L1720.6 1342.0 L1721.6 1340.2 L1722.6 1341.7 L1723.6 1340.1 L1724.6 1341.1 L1725.6 1341.5 L1726.6 1341.3 L1727.6 1339.7 L1728.6 1339.5 L1729.6 1339.3 L1730.6 1340.1 L1731.6 1339.9 L1732.6 1338.0 L1733.6 1338.0 L1734.6 1340.6 L1735.6 1340.4 L1736.6 1341.1 L1737.6 1340.9 L1738.6 1338.1 L1739.6 1338.5 L1740.6 1339.1 L1741.6 1341.2 L1742.6 1338.6 L1743.6 1340.2 L1744.6 1338.0 L1745.6 1338.3 L1746.6 1341.0 L1747.6 1340.3 L1748.6 1339.2 L1749.6 1339.1 L1750.6 1340.5 L1751.6 1339.1 L1752.6 1338.7 L1753.6 1339.3 L1754.6 1336.9 L1755.6 1338.1 L1756.6 1339.5 L1757.6 1338.4 L1758.6 1337.4 L1759.6 1337.4 L1760.6 1337.8 L1761.6 1338.5 L1762.6 1337.7 L1763.6 1338.0 L1764.6 1337.4 L1765.6 1337.9 L1766.6 1338.5 L1767.6 1339.6 L1768.6 1337.7 L1769.6 1338.1 L1770.6 1337.0 L1771.6 1337.1 L1772.6 1339.5 L1773.6 1337.5 L1774.6 1338.0 L1775.6 1337.6 L1776.6 1339.3 L1777.6 1338.5 L1778.6 1337.4 L1779.6 1338.3 L1780.6 1338.1 L1781.6 1338.3 L1782.6 1336.5 L1783.6 1338.3 L1784.6 1337.1 L1785.6 1338.3 L1786.6 1338.7 L1787.6 1336.9 L1788.6 1337.8 L1789.6 1337.2 L1790.6 1338.0 L1791.6 1338.5 L1792.6 1338.6 L1793.6 1337.6 L1794.6 1336.2 L1795.6 1339.2 L1796.6 1336.1 L1797.6 1338.5 L1798.6 1336.2 L1799.6 1336.4 L1800.6 1337.2 L1801.6 1336.2 L1802.6 1338.2 L1803.6 1339.7 L1804.6 1340.5 L1805.6 1338.1 L1806.6 1339.2 L1807.6 1336.8 L1808.6 1337.1 L1809.6 1339.5 L1810.6 1339.0 L1811.6 1339.1 L1812.6 1338.1 L1813.6 1338.6 L1814.6 1339.8 L1815.6 1337.9 L1816.6 1339.7 L1817.6 1340.2 L1818.6 1338.3 L1819.6 1339.7 L1820.6 1339.1 L1821.6 1337.5 L1822.6 1339.2 L1823.6 1339.9 L1824.6 1337.4 L1825.6 1336.9 L1826.6 1338.8 L1827.6 1338.7 L1828.6 1337.5 L1829.6 1337.0 L1830.6 1337.2 L1831.6 1338.5 L1832.6 1338.9 L1833.6 1338.8 L1834.6 1338.7 L1835.6 1338.3 L1836.6 1339.2 L1837.6 1338.1 L1838.6 1339.1 L1839.6 1338.3 L1840.6 1337.0 L1841.6 1337.8 L1842.6 1339.5 L1843.6 1337.3 L1844.6 1338.2 L1845.6 1338.4 L1846.6 1338.8 L1847.6 1339.0 L1848.6 1337.3 L1849.6 1340.8 L1850.6 1339.1 L1851.6 1337.9 L1852.6 1339.7 L1853.6 1339.2 L1854.6 1337.3 L1855.6 1338.7 L1856.6 1339.7 L1857.6 1338.4 L1857.6 1338.5 L1858.2 1338.5 L1859.6 1331.5 L1861.2 1450.0 L1863.6 1582.5 L1864.6 1580.2 L1865.6 1577.8 L1866.6 1574.6 L1867.6 1569.2 L1868.6 1562.1 L1869.6 1554.7 L1870.6 1548.2 L1871.6 1541.9 L1872.6 1535.6 L1873.6 1529.5 L1874.6 1523.3 L1875.6 1517.0 L1876.6 1510.9 L1877.6 1505.2 L1878.6 1499.9 L1879.6 1494.8 L1880.6 1490.0 L1881.6 1485.7 L1882.6 1481.9 L1883.6 1478.5 L1884.6 1475.3 L1885.6 1472.4 L1886.6 1469.9 L1887.6 1467.2 L1888.6 1465.8 L1889.6 1463.3 L1890.6 1462.7 L1891.6 1461.1 L1892.6 1461.0 L1893.6 1460.4 L1894.6 1459.7 L1895.6 1458.4 L1896.6 1457.0 L1897.6 1456.3 L1898.6 1455.6 L1899.6 1455.2 L1900.6 1453.0 L1901.6 1453.7 L1902.6 1452.5 L1903.6 1451.2 L1904.6 1451.4 L1905.6 1449.7 L1906.6 1451.3 L1907.6 1451.1 L1908.6 1447.7 L1909.6 1448.6 L1910.6 1449.0 L1911.6 1449.0 L1912.6 1447.0 L1913.6 1446.8 L1914.6 1445.1 L1915.6 1447.4 L1916.6 1446.4 L1917.6 1444.6 L1918.6 1445.6 L1919.6 1444.6 L1920.6 1442.4 L1921.6 1443.1 L1922.6 1443.0 L1923.6 1441.5 L1924.6 1441.2 L1925.6 1442.1 L1926.6 1441.0 L1927.6 1440.1 L1928.6 1440.4 L1929.6 1441.7 L1930.6 1441.6 L1931.6 1441.6 L1932.6 1439.6 L1933.6 1440.3 L1934.6 1438.0 L1935.6 1438.8 L1936.6 1437.5 L1937.6 1438.9 L1938.6 1437.4 L1939.6 1436.4 L1940.6 1437.9 L1941.6 1435.8 L1942.6 1438.0 L1943.6 1436.0 L1944.6 1436.0 L1945.6 1436.6 L1946.6 1435.6 L1947.6 1436.2 L1948.6 1435.2 L1949.6 1434.7 L1950.6 1434.6 L1951.6 1434.2 L1952.6 1433.1 L1953.6 1433.6 L1954.6 1433.6 L1955.6 1432.7 L1956.6 1431.8 L1957.6 1432.1 L1958.6 1432.6 L1959.6 1432.0 L1960.6 1433.2 L1961.6 1430.9 L1962.6 1432.5 L1963.6 1430.8 L1964.6 1430.5 L1965.6 1431.8 L1966.6 1433.2 L1967.6 1432.6 L1968.6 1430.0 L1969.6 1429.7 L1970.6 1430.1 L1971.6 1431.3 L1972.6 1429.9 L1973.6 1431.3 L1974.6 1428.2 L1975.6 1431.1 L1976.6 1428.3 L1977.6 1431.1 L1978.6 1428.2 L1979.6 1429.0 L1980.6 1430.7 L1981.6 1430.5 L1982.6 1428.8 L1983.6 1427.3 L1984.6 1426.8 L1985.6 1428.4 L1986.6 1426.9 L1987.6 1428.1 L1988.6 1426.1 L1989.6 1427.9 L1990.6 1426.9 L1991.6 1425.2 L1992.6 1427.8 L1993.6 1426.7 L1994.6 1425.8 L1995.6 1427.8 L1996.6 1427.4 L1997.6 1427.7 L1998.6 1424.1 L1999.6 1427.3 L2000.6 1426.3 L2001.6 1426.5 L2002.6 1425.4 L2003.6 1426.8 L2004.6 1425.3 L2005.6 1425.4 L2006.6 1426.1 L2007.6 1423.4 L2008.6 1422.4 L2009.6 1424.9 L2010.6 1422.9 L2011.6 1423.1 L2012.6 1424.3 L2013.6 1423.5 L2014.6 1425.3 L2015.6 1425.2 L2016.6 1424.5 L2017.6 1425.9 L2018.6 1424.8 L2019.6 1423.3 L2020.6 1425.1 L2021.6 1423.8 L2022.6 1424.3 L2023.6 1424.2 L2024.6 1421.7 L2025.6 1424.2 L2026.6 1423.5 L2027.6 1422.2 L2028.6 1423.0 L2029.6 1424.2 L2030.6 1421.6 L2031.6 1421.3 L2032.6 1422.8 L2033.6 1422.6 L2034.6 1421.8 L2035.6 1421.7 L2036.6 1423.4 L2037.6 1420.8 L2038.6 1422.4 L2039.6 1422.4 L2040.6 1421.6 L2041.6 1421.9 L2042.6 1420.0 L2043.6 1420.4 L2044.6 1420.1 L2045.6 1420.0 L2046.6 1420.3 L2047.6 1418.8 L2048.6 1418.6 L2049.6 1421.4 L2050.6 1420.4 L2051.6 1420.2 L2052.6 1420.7 L2053.6 1420.7 L2054.6 1418.7 L2055.6 1418.2 L2056.6 1420.0 L2057.6 1417.9 L2058.6 1419.2 L2059.6 1420.4 L2060.6 1418.6 L2061.6 1419.7 L2062.6 1418.7 L2063.6 1417.9 L2064.6 1419.5 L2065.6 1418.5 L2066.6 1416.4 L2067.6 1417.7 L2068.6 1419.8 L2069.6 1418.8 L2070.6 1420.5 L2071.6 1419.8 L2072.6 1416.8 L2073.6 1418.9 L2074.6 1419.3 L2075.6 1416.6 L2076.6 1415.9 L2077.6 1418.6 L2078.6 1417.1 L2079.6 1416.6 L2080.6 1418.3 L2081.6 1418.6 L2082.6 1416.4 L2083.6 1416.9 L2084.6 1417.3 L2085.6 1418.0 L2086.6 1418.9 L2087.6 1419.8 L2088.6 1418.4 L2089.6 1418.4 L2090.6 1417.0 L2091.6 1416.6 L2092.6 1418.1 L2093.6 1418.5 L2094.6 1416.2 L2095.6 1418.6 L2096.6 1418.7 L2097.6 1419.2 L2098.6 1417.3 L2099.6 1417.2 L2100.6 1416.9 L2101.6 1416.5 L2102.6 1417.0 L2103.6 1415.8 L2104.6 1417.3 L2105.6 1417.2 L2106.6 1416.7 L2107.6 1416.1 L2108.6 1418.1 L2109.6 1416.9 L2110.6 1417.9 L2111.6 1417.5 L2112.6 1417.5 L2113.6 1415.7 L2114.6 1415.4 L2115.6 1416.8 L2116.6 1416.6 L2117.6 1414.0 L2118.6 1416.6 L2119.6 1417.0 L2120.6 1413.3 L2121.6 1413.8 L2122.6 1416.7 L2123.6 1416.7 L2124.6 1415.8 L2125.6 1414.3 L2126.6 1416.3 L2127.6 1413.0 L2128.6 1413.9 L2129.6 1413.4 L2130.6 1414.1 L2131.6 1415.7 L2132.6 1415.3 L2133.6 1414.2 L2134.6 1414.8 L2135.6 1414.1 L2136.6 1413.2 L2137.6 1413.5 L2138.6 1415.9 L2139.6 1414.8 L2140.6 1414.0 L2141.6 1414.9 L2142.6 1414.2 L2143.6 1415.5 L2144.6 1413.4 L2145.6 1415.8 L2146.6 1414.4 L2147.6 1412.5 L2148.6 1414.5 L2149.6 1411.5 L2150.6 1412.8 L2151.6 1411.5 L2152.6 1412.7 L2153.6 1414.3 L2154.6 1413.3 L2155.6 1413.6 L2156.6 1413.4 L2157.6 1414.1 L2158.6 1411.9 L2159.6 1410.4 L2160.6 1413.1 L2161.6 1410.7 L2162.6 1411.1 L2163.6 1410.7 L2164.6 1412.1 L2165.6 1413.4 L2166.6 1411.4 L2167.6 1412.6 L2168.6 1413.0 L2169.6 1413.7 L2170.6 1412.5 L2171.6 1413.0 L2172.6 1412.7 L2173.6 1413.7 L2174.6 1411.8 L2175.6 1411.7 L2176.6 1411.9 L2177.6 1412.7 L2178.6 1411.9 L2179.6 1411.3 L2180.6 1413.9 L2181.6 1413.3 L2182.6 1412.8 L2183.6 1413.7 L2184.6 1412.9 L2185.6 1411.1 L2186.6 1411.6 L2187.6 1413.7 L2188.6 1413.2 L2189.6 1412.9 L2190.6 1413.1 L2191.6 1412.4 L2192.6 1412.2 L2193.6 1410.9 L2194.6 1410.6 L2195.6 1412.5 L2196.6 1412.1 L2197.6 1412.2 L2198.6 1411.2 L2199.6 1410.7 L2200.6 1412.9 L2201.6 1413.3 L2202.6 1413.5 L2203.6 1412.1 L2204.6 1413.8 L2205.6 1411.3 L2206.6 1410.9 L2207.6 1412.0 L2208.6 1412.1 L2209.6 1409.9 L2210.6 1411.2 L2211.6 1411.0 L2212.6 1410.3 L2213.6 1411.6 L2214.6 1411.7 L2215.6 1409.7 L2216.6 1410.3 L2217.6 1410.5 L2218.6 1410.6 L2219.6 1410.5 L2220.6 1410.4 L2221.6 1412.9 L2222.6 1410.6 L2223.6 1410.5 L2224.6 1412.2 L2225.6 1412.1 L2226.6 1410.1 L2227.6 1411.3 L2228.6 1411.6 L2229.6 1411.7 L2230.6 1411.2 L2231.6 1412.1 L2232.6 1412.0 L2233.6 1412.1 L2234.6 1411.8 L2235.6 1411.0 L2236.6 1411.1 L2237.6 1410.1 L2238.6 1413.1 L2239.6 1410.8 L2240.6 1410.2 L2241.6 1411.4 L2242.6 1411.5 L2243.6 1411.4 L2244.6 1410.5 L2245.6 1409.7 L2246.6 1411.0 L2247.6 1412.2 L2248.6 1411.7 L2249.6 1410.1 L2250.6 1411.4 L2251.6 1411.5 L2252.6 1409.7 L2253.6 1410.5 L2254.6 1409.4 L2255.6 1410.6 L2256.6 1410.9 L2257.6 1409.9 L2258.6 1412.1 L2259.6 1411.5 L2260.6 1411.6 L2261.6 1410.8 L2262.6 1411.3 L2263.6 1408.8 L2264.6 1410.9 L2265.6 1407.9 L2266.6 1410.7 L2267.6 1410.4 L2268.6 1411.0 L2269.6 1408.4 L2270.6 1409.3 L2271.6 1408.1 L2272.6 1411.5 L2273.6 1408.7 L2274.6 1410.7 L2275.6 1411.1 L2276.6 1410.0 L2277.6 1410.4 L2278.6 1411.5 L2279.6 1410.9 L2280.6 1409.5 L2281.6 1412.2 L2282.6 1411.0 L2283.6 1411.3 L2284.6 1410.0 L2285.6 1410.7 L2286.6 1411.6 L2287.6 1411.4 L2288.6 1412.9 L2289.6 1413.2 L2290.6 1412.7 L2291.6 1411.9 L2292.6 1413.6 L2293.6 1410.6 L2294.6 1412.5 L2295.6 1410.5 L2296.6 1411.5 L2297.6 1409.6 L2298.6 1410.9 L2299.6 1412.3 L2300.6 1411.9 L2301.6 1410.1 L2302.6 1409.6 L2303.6 1410.8 L2304.6 1412.5 L2305.6 1412.4 L2306.6 1411.5 L2307.6 1411.3 L2308.6 1411.4 L2309.6 1410.6 L2310.6 1411.1 L2311.6 1412.0 L2312.6 1409.8 L2313.6 1411.9 L2314.6 1409.3 L2315.6 1409.9 L2316.6 1409.5 L2317.6 1411.8 L2318.6 1410.0 L2319.6 1410.7 L2320.6 1412.4 L2321.6 1410.4 L2322.6 1411.2 L2323.6 1410.8 L2324.6 1410.7 L2325.6 1411.8 L2326.6 1410.4 L2327.6 1412.8 L2328.6 1413.6 L2329.6 1411.1 L2330.6 1412.0 L2331.6 1410.6 L2332.6 1410.1 L2333.6 1413.2 L2334.6 1412.1 L2335.6 1410.7 L2336.6 1411.3 L2337.6 1411.5 L2338.6 1410.7 L2339.6 1411.5 L2340.6 1412.2 L2341.6 1413.3 L2342.6 1412.9 L2343.6 1414.3 L2344.6 1413.2 L2345.6 1412.4 L2346.6 1412.4 L2347.6 1411.7 L2348.6 1413.8 L2349.6 1412.4 L2350.6 1412.9 L2351.6 1414.6 L2352.6 1412.7 L2353.6 1413.7 L2354.6 1414.6 L2355.6 1413.9 L2356.6 1412.7 L2357.6 1415.4 L2358.6 1414.7 L2359.6 1414.4 L2360.6 1415.7 L2361.6 1414.3 L2362.6 1415.3 L2363.6 1413.3 L2364.6 1413.3 L2365.6 1413.9 L2366.6 1414.0 L2367.6 1414.5 L2368.6 1414.5 L2369.6 1415.5 L2370.6 1415.2 L2371.3 1413.2" fill="none" stroke="#4a4a4a" stroke-width="7.6" stroke-linejoin="round" stroke-linecap="round"/>
<line x1="1951" y1="139" x2="2137" y2="139" stroke="#ff3333" stroke-width="8" stroke-linecap="round"/>
<line x1="1951" y1="255" x2="2137" y2="255" stroke="#4a4a4a" stroke-width="8" stroke-linecap="round"/>
<text transform="translate(2155.34 167.00) scale(0.9974 1)" font-size="84.5">Other</text>
<text transform="translate(2156.37 284.00) scale(0.9982 1)" font-size="84.5">BCC</text>
<filter id="f1" x="0" y="0" width="424.6" height="423.6" filterUnits="userSpaceOnUse" color-interpolation-filters="sRGB">
<feGaussianBlur in="SourceGraphic" stdDeviation="9" result="m"/>
<feTurbulence type="fractalNoise" baseFrequency="0.21" numOctaves="1" seed="11" result="n0"/>
<feColorMatrix in="n0" type="matrix" values="1 0 0 0 0  0 1 0 0 0  0 0 1 0 0  0 0 0 0 1" result="n"/>
<feTurbulence type="fractalNoise" baseFrequency="0.035" numOctaves="2" seed="18" result="l0"/>
<feColorMatrix in="l0" type="matrix" values="1 0 0 0 0  0 1 0 0 0  0 0 1 0 0  0 0 0 0 1" result="l"/>
<feComposite in="n" in2="l" operator="arithmetic" k1="0" k2="0.8944" k3="0.5056" k4="-0.2000" result="nl"/>
<feComposite in="m" in2="nl" operator="arithmetic" k1="0" k2="1.15" k3="2.5714" k4="-1.2857" result="mn"/>
<feComponentTransfer in="mn" result="t"><feFuncR type="linear" slope="2.6" intercept="-0.8"/></feComponentTransfer>
<feColorMatrix in="t" type="matrix" values="-0.648 0 0 0 0.732  0.010 0 0 0 0.063  0.581 0 0 0 0.073  0 0 0 0 1" result="c"/>
<feTurbulence type="fractalNoise" baseFrequency="0.3" numOctaves="2" seed="14" result="b0"/>
<feColorMatrix in="b0" type="matrix" values="0 1.3 0 0 0.1  0 1.3 0 0 0.1  0 1.3 0 0 0.1  0 0 0 0 1" result="b"/>
<feComposite in="c" in2="b" operator="arithmetic" k1="1" k2="0" k3="0" k4="0" result="cb"/>
<feGaussianBlur in="cb" stdDeviation="1.6"/>
</filter>
<g transform="translate(404.0 101.0)"><g filter="url(#f1)">
<rect x="0" y="0" width="424.6" height="423.6" fill="#000"/>
<polygon points="-10.2,-10.2 38.3,-10.2 37.0,23.0 23.0,51.0 5.1,58.7 -10.2,61.2" fill="#fff" fill-opacity="0.9"/>
<polygon points="35.7,122.4 34.5,131.9 30.8,140.4 25.2,147.2 18.1,151.5 10.2,153.0 2.3,151.5 -4.8,147.2 -10.4,140.4 -14.1,131.9 -15.3,122.4 -14.1,113.0 -10.4,104.4 -4.8,97.6 2.3,93.3 10.2,91.8 18.1,93.3 25.2,97.6 30.8,104.4 34.5,113.0" fill="#fff" fill-opacity="0.6"/>
<polygon points="-10.2,163.2 25.5,165.8 53.6,198.9 51.0,239.7 25.5,265.2 -10.2,267.8" fill="#fff" fill-opacity="0.75"/>
<polygon points="95.3,81.5 88.2,91.1 80.3,98.7 72.2,103.6 64.8,105.4 58.8,103.8 54.8,99.1 53.1,91.7 54.0,82.3 57.4,71.8 62.8,61.3 69.9,51.7 77.8,44.1 85.9,39.2 93.3,37.4 99.3,39.0 103.3,43.7 105.0,51.1 104.1,60.5 100.7,71.0" fill="#fff" fill-opacity="0.55"/>
<polygon points="230.8,56.1 229.5,63.6 225.7,70.3 219.8,75.7 212.3,79.1 204.0,80.3 195.7,79.1 188.3,75.7 182.3,70.3 178.5,63.6 177.2,56.1 178.5,48.6 182.3,41.9 188.3,36.5 195.7,33.1 204.0,31.9 212.3,33.1 219.8,36.5 225.7,41.9 229.5,48.6" fill="#fff" fill-opacity="0.65"/>
<polygon points="200.2,99.5 199.1,105.4 196.0,110.7 191.3,114.9 185.2,117.6 178.5,118.6 171.8,117.6 165.8,114.9 161.0,110.7 157.9,105.4 156.8,99.5 157.9,93.5 161.0,88.2 165.8,84.0 171.8,81.3 178.5,80.3 185.2,81.3 191.3,84.0 196.0,88.2 199.1,93.5" fill="#fff" fill-opacity="0.5"/>
<polygon points="375.4,84.0 367.1,103.8 354.1,120.2 337.7,131.6 319.3,136.8 300.9,135.4 284.3,127.4 271.1,113.7 262.5,95.7 259.4,75.0 262.1,53.7 270.4,33.9 283.4,17.5 299.9,6.1 318.2,0.9 336.6,2.3 353.2,10.3 366.5,24.0 375.1,42.0 378.2,62.7" fill="#fff" fill-opacity="0.55"/>
<polygon points="354.1,60.5 350.3,75.1 344.3,87.7 336.9,97.3 328.7,102.9 320.6,103.8 313.2,100.1 307.4,92.1 303.7,80.6 302.5,66.6 303.9,51.7 307.7,37.1 313.6,24.5 321.0,14.9 329.2,9.4 337.4,8.4 344.7,12.1 350.5,20.1 354.2,31.6 355.5,45.6" fill="#fff" fill-opacity="0.45"/>
<polygon points="377.4,-10.2 434.8,-10.2 434.8,58.7 408.0,56.1 385.1,30.6" fill="#fff" fill-opacity="0.9"/>
<polygon points="434.8,142.8 397.8,155.6 387.6,193.8 400.4,239.7 434.8,262.7" fill="#fff" fill-opacity="0.65"/>
<polygon points="186.0,274.1 175.6,286.4 161.3,294.5 144.4,297.8 126.6,295.9 109.7,289.0 95.2,277.8 84.7,263.3 79.1,247.1 79.0,230.6 84.4,215.5 94.7,203.3 109.1,195.1 125.9,191.8 143.7,193.7 160.7,200.6 175.1,211.9 185.6,226.3 191.2,242.6 191.3,259.1" fill="#fff" fill-opacity="0.5"/>
<polygon points="179.1,274.0 174.6,281.6 167.5,287.3 158.5,290.7 148.4,291.2 138.3,289.0 129.2,284.2 121.8,277.3 117.1,269.0 115.3,260.0 116.8,251.3 121.2,243.7 128.3,238.0 137.4,234.7 147.4,234.1 157.5,236.3 166.7,241.1 174.0,248.0 178.8,256.3 180.5,265.3" fill="#fff" fill-opacity="0.55"/>
<polygon points="402.4,305.6 394.9,318.8 383.5,329.0 369.2,335.3 353.5,336.9 337.9,333.7 323.9,326.1 312.9,314.7 306.0,300.8 303.8,285.6 306.5,270.7 314.0,257.5 325.4,247.3 339.7,241.1 355.4,239.5 371.0,242.6 385.0,250.3 396.0,261.6 403.0,275.5 405.2,290.7" fill="#fff" fill-opacity="0.5"/>
<polygon points="394.8,293.5 391.6,303.3 385.7,311.7 377.7,317.7 368.5,320.9 358.9,320.8 349.9,317.6 342.3,311.5 336.9,303.1 334.2,293.2 334.5,282.9 337.8,273.0 343.7,264.7 351.6,258.6 360.8,255.5 370.4,255.5 379.5,258.8 387.0,264.9 392.4,273.3 395.1,283.1" fill="#fff" fill-opacity="0.6"/>
<polygon points="171.4,403.3 159.1,414.1 139.9,418.9 115.7,417.1 88.9,408.9 62.2,395.2 38.2,377.2 19.1,356.7 6.9,335.8 2.7,316.4 7.1,300.6 19.4,289.7 38.7,285.0 62.8,286.7 89.6,294.9 116.3,308.7 140.4,326.7 159.4,347.1 171.6,368.0 175.8,387.4" fill="#fff" fill-opacity="0.55"/>
<polygon points="129.2,381.7 122.3,387.5 111.4,390.0 97.5,388.6 82.2,383.7 66.7,375.7 52.8,365.4 41.6,353.7 34.4,341.9 31.8,331.0 34.0,322.2 40.9,316.3 51.9,313.9 65.7,315.2 81.0,320.1 96.5,328.1 110.4,338.5 121.6,350.1 128.8,362.0 131.4,372.8" fill="#fff" fill-opacity="0.4"/>
<polygon points="223.9,355.6 220.8,363.0 214.6,369.1 205.8,373.3 195.4,375.2 184.3,374.5 173.6,371.3 164.5,366.0 157.7,359.1 153.9,351.2 153.6,343.2 156.6,335.7 162.9,329.6 171.6,325.4 182.1,323.6 193.1,324.3 203.8,327.4 213.0,332.7 219.8,339.6 223.5,347.5" fill="#fff" fill-opacity="0.65"/>
<polygon points="434.8,351.9 387.6,357.0 362.1,382.5 354.5,434.8 434.8,434.8" fill="#fff" fill-opacity="0.9"/>
<polygon points="-10.2,392.7 20.4,400.4 30.6,434.8 -10.2,434.8" fill="#fff" fill-opacity="0.8"/>
</g></g>
<filter id="f2" x="0" y="0" width="424.0" height="422.5" filterUnits="userSpaceOnUse" color-interpolation-filters="sRGB">
<feGaussianBlur in="SourceGraphic" stdDeviation="8" result="m"/>
<feTurbulence type="fractalNoise" baseFrequency="0.21" numOctaves="1" seed="23" result="n0"/>
<feColorMatrix in="n0" type="matrix" values="1 0 0 0 0  0 1 0 0 0  0 0 1 0 0  0 0 0 0 1" result="n"/>
<feTurbulence type="fractalNoise" baseFrequency="0.035" numOctaves="2" seed="30" result="l0"/>
<feColorMatrix in="l0" type="matrix" values="1 0 0 0 0  0 1 0 0 0  0 0 1 0 0  0 0 0 0 1" result="l"/>
<feComposite in="n" in2="l" operator="arithmetic" k1="0" k2="0.8944" k3="0.5056" k4="-0.2000" result="nl"/>
<feComposite in="m" in2="nl" operator="arithmetic" k1="0" k2="1.0" k3="2.5714" k4="-1.2857" result="mn"/>
<feComponentTransfer in="mn" result="t"><feFuncR type="linear" slope="2.6" intercept="-0.8"/></feComponentTransfer>
<feColorMatrix in="t" type="matrix" values="-0.648 0 0 0 0.732  0.010 0 0 0 0.063  0.581 0 0 0 0.073  0 0 0 0 1" result="c"/>
<feTurbulence type="fractalNoise" baseFrequency="0.3" numOctaves="2" seed="26" result="b0"/>
<feColorMatrix in="b0" type="matrix" values="0 1.3 0 0 0.1  0 1.3 0 0 0.1  0 1.3 0 0 0.1  0 0 0 0 1" result="b"/>
<feComposite in="c" in2="b" operator="arithmetic" k1="1" k2="0" k3="0" k4="0" result="cb"/>
<feGaussianBlur in="cb" stdDeviation="1.6"/>
</filter>
<g transform="translate(602.0 720.5)"><g filter="url(#f2)">
<rect x="0" y="0" width="424.0" height="422.5" fill="#000"/>
<polygon points="-10.2,-10.7 50.9,-10.7 53.5,35.1 40.7,65.7 -10.2,73.3" fill="#fff" fill-opacity="0.9"/>
<polygon points="-10.2,98.8 40.7,103.9 58.6,142.1 61.1,193.0 48.4,218.5 20.4,241.4 -10.2,244.0" fill="#fff" fill-opacity="0.8"/>
<polygon points="126.9,106.7 122.0,125.8 114.6,142.5 105.5,155.2 95.6,162.6 85.7,164.0 77.0,159.3 70.1,149.0 65.9,133.9 64.7,115.7 66.7,96.0 71.6,76.9 78.9,60.2 88.0,47.5 98.0,40.1 107.8,38.7 116.6,43.4 123.4,53.7 127.6,68.8 128.8,87.0" fill="#fff" fill-opacity="0.75"/>
<polygon points="225.4,55.5 224.3,62.2 221.2,68.2 216.4,73.0 210.4,76.1 203.7,77.2 197.0,76.1 191.0,73.0 186.2,68.2 183.1,62.2 182.1,55.5 183.1,48.8 186.2,42.8 191.0,38.0 197.0,34.9 203.7,33.9 210.4,34.9 216.4,38.0 221.2,42.8 224.3,48.8" fill="#fff" fill-opacity="0.7"/>
<polygon points="353.2,92.8 347.0,112.5 336.3,129.4 322.1,141.7 305.8,148.4 289.0,148.7 273.3,142.7 260.2,130.8 251.1,114.3 246.9,94.8 247.8,74.2 254.0,54.5 264.6,37.7 278.8,25.3 295.2,18.6 312.0,18.3 327.7,24.4 340.7,36.2 349.9,52.7 354.1,72.2" fill="#fff" fill-opacity="0.8"/>
<polygon points="387.1,-10.7 434.2,-10.7 434.2,60.6 407.4,55.5 392.2,30.0" fill="#fff" fill-opacity="0.9"/>
<polygon points="434.2,88.6 397.3,101.4 382.0,137.0 392.2,182.8 434.2,198.1" fill="#fff" fill-opacity="0.8"/>
<polygon points="434.2,200.7 410.0,213.4 407.4,249.1 434.2,259.2" fill="#fff" fill-opacity="0.75"/>
<polygon points="182.4,245.7 176.7,260.6 165.7,273.1 150.5,281.9 132.4,286.0 113.4,285.2 95.2,279.5 79.7,269.4 68.3,255.9 62.3,240.5 62.0,224.4 67.7,209.5 78.7,197.0 94.0,188.2 112.0,184.1 131.1,184.9 149.2,190.6 164.8,200.7 176.1,214.2 182.2,229.6" fill="#fff" fill-opacity="0.9"/>
<polygon points="246.9,304.6 244.4,311.9 238.4,318.1 229.5,322.7 218.6,325.2 206.7,325.4 195.1,323.1 184.7,318.8 176.8,312.7 172.0,305.5 170.8,297.9 173.3,290.6 179.3,284.4 188.2,279.8 199.1,277.3 210.9,277.2 222.6,279.4 232.9,283.7 240.8,289.8 245.7,297.0" fill="#fff" fill-opacity="0.75"/>
<polygon points="-10.2,282.2 86.6,308.9 142.6,321.6 191.0,342.0 226.6,362.4 234.3,433.7 66.2,433.7 35.7,389.1 5.1,350.9 -10.2,340.7" fill="#fff" fill-opacity="0.85"/>
<polygon points="402.8,285.8 402.2,297.1 396.7,308.2 386.7,318.0 373.2,325.5 357.6,330.0 341.4,331.1 326.2,328.6 313.5,322.9 304.4,314.4 300.0,304.0 300.6,292.7 306.2,281.6 316.2,271.8 329.6,264.3 345.2,259.8 361.4,258.7 376.6,261.2 389.4,266.9 398.4,275.4" fill="#fff" fill-opacity="0.85"/>
<polygon points="434.2,363.6 392.2,368.7 364.2,391.7 359.1,433.7 434.2,433.7" fill="#fff" fill-opacity="0.9"/>
<polygon points="-10.2,394.2 17.8,401.8 25.5,433.7 -10.2,433.7" fill="#fff" fill-opacity="0.9"/>
</g></g>
<filter id="f3" x="0" y="0" width="424.0" height="423.0" filterUnits="userSpaceOnUse" color-interpolation-filters="sRGB">
<feGaussianBlur in="SourceGraphic" stdDeviation="8" result="m"/>
<feTurbulence type="fractalNoise" baseFrequency="0.21" numOctaves="1" seed="35" result="n0"/>
<feColorMatrix in="n0" type="matrix" values="1 0 0 0 0  0 1 0 0 0  0 0 1 0 0  0 0 0 0 1" result="n"/>
<feTurbulence type="fractalNoise" baseFrequency="0.035" numOctaves="2" seed="42" result="l0"/>
<feColorMatrix in="l0" type="matrix" values="1 0 0 0 0  0 1 0 0 0  0 0 1 0 0  0 0 0 0 1" result="l"/>
<feComposite in="n" in2="l" operator="arithmetic" k1="0" k2="0.8944" k3="0.5056" k4="-0.2000" result="nl"/>
<feComposite in="m" in2="nl" operator="arithmetic" k1="0" k2="1.0" k3="2.5714" k4="-1.2857" result="mn"/>
<feComponentTransfer in="mn" result="t"><feFuncR type="linear" slope="2.6" intercept="-0.8"/></feComponentTransfer>
<feColorMatrix in="t" type="matrix" values="-0.648 0 0 0 0.732  0.010 0 0 0 0.063  0.581 0 0 0 0.073  0 0 0 0 1" result="c"/>
<feTurbulence type="fractalNoise" baseFrequency="0.3" numOctaves="2" seed="38" result="b0"/>
<feColorMatrix in="b0" type="matrix" values="0 1.3 0 0 0.1  0 1.3 0 0 0.1  0 1.3 0 0 0.1  0 0 0 0 1" result="b"/>
<feComposite in="c" in2="b" operator="arithmetic" k1="1" k2="0" k3="0" k4="0" result="cb"/>
<feGaussianBlur in="cb" stdDeviation="1.6"/>
</filter>
<g transform="translate(1070.0 618.0)"><g filter="url(#f3)">
<rect x="0" y="0" width="424.0" height="423.0" fill="#000"/>
<polygon points="-5.1,-5.1 38.2,-5.1 35.7,20.4 22.9,43.3 -5.1,45.8" fill="#fff" fill-opacity="0.95"/>
<polygon points="91.7,-5.1 198.6,-5.1 188.4,17.8 142.6,25.5 99.3,17.8" fill="#fff" fill-opacity="0.7"/>
<polygon points="91.7,48.4 132.4,40.7 206.3,35.7 231.7,56.0 234.3,96.8 219.0,132.4 183.4,157.9 168.1,170.6 127.3,165.5 86.6,157.9 63.7,132.4 58.6,96.8 71.3,66.2" fill="#fff" fill-opacity="0.97"/>
<polygon points="157.9,99.3 157.0,104.4 154.5,109.0 150.5,112.7 145.6,115.1 140.1,115.9 134.6,115.1 129.6,112.7 125.6,109.0 123.1,104.4 122.2,99.3 123.1,94.2 125.6,89.6 129.6,85.9 134.6,83.6 140.1,82.8 145.6,83.6 150.5,85.9 154.5,89.6 157.0,94.2" fill="#000" fill-opacity="0.6"/>
<polygon points="358.4,55.6 362.1,73.5 360.6,91.4 353.9,107.6 342.7,120.5 328.2,128.9 311.7,131.8 294.8,129.1 279.3,121.0 266.5,108.3 257.9,92.1 254.1,74.2 255.7,56.3 262.4,40.1 273.6,27.2 288.1,18.8 304.6,15.9 321.5,18.6 337.0,26.7 349.7,39.4" fill="#fff" fill-opacity="0.72"/>
<polygon points="382.0,-5.1 429.1,-5.1 429.1,56.0 407.4,53.5 389.6,28.0" fill="#fff" fill-opacity="0.95"/>
<polygon points="429.1,112.0 397.3,127.3 387.1,168.1 402.4,219.0 407.4,254.7 429.1,259.7" fill="#fff" fill-opacity="0.8"/>
<polygon points="-5.1,109.5 28.0,114.6 40.7,152.8 58.6,183.4 56.0,219.0 40.7,239.4 22.9,257.2 -5.1,259.7" fill="#fff" fill-opacity="0.93"/>
<polygon points="219.8,278.8 217.5,284.0 212.5,288.2 205.4,290.9 197.0,292.0 187.9,291.3 179.1,288.9 171.5,285.0 165.8,280.0 162.6,274.3 162.2,268.7 164.5,263.5 169.5,259.3 176.5,256.6 185.0,255.5 194.1,256.2 202.8,258.6 210.4,262.5 216.1,267.5 219.4,273.2" fill="#fff" fill-opacity="0.65"/>
<polygon points="5.1,277.6 53.5,275.0 104.4,295.4 132.4,315.8 183.4,320.9 219.0,351.4 231.7,387.1 229.2,429.1 61.1,429.1 40.7,387.1 12.7,346.3 0.0,308.1" fill="#fff" fill-opacity="0.9"/>
<polygon points="429.1,354.0 382.0,356.5 359.1,382.0 354.0,429.1 429.1,429.1" fill="#fff" fill-opacity="0.95"/>
<polygon points="399.8,305.6 398.9,310.3 396.4,314.6 392.5,317.9 387.5,320.1 382.0,320.9 376.5,320.1 371.5,317.9 367.6,314.6 365.0,310.3 364.2,305.6 365.0,300.9 367.6,296.6 371.5,293.2 376.5,291.1 382.0,290.3 387.5,291.1 392.5,293.2 396.4,296.6 398.9,300.9" fill="#fff" fill-opacity="0.5"/>
<polygon points="-5.1,402.4 15.3,407.4 22.9,429.1 -5.1,429.1" fill="#fff" fill-opacity="0.85"/>
</g></g>
<filter id="f4" x="0" y="0" width="424.3" height="424.0" filterUnits="userSpaceOnUse" color-interpolation-filters="sRGB">
<feGaussianBlur in="SourceGraphic" stdDeviation="8" result="m"/>
<feTurbulence type="fractalNoise" baseFrequency="0.21" numOctaves="1" seed="47" result="n0"/>
<feColorMatrix in="n0" type="matrix" values="1 0 0 0 0  0 1 0 0 0  0 0 1 0 0  0 0 0 0 1" result="n"/>
<feTurbulence type="fractalNoise" baseFrequency="0.035" numOctaves="2" seed="54" result="l0"/>
<feColorMatrix in="l0" type="matrix" values="1 0 0 0 0  0 1 0 0 0  0 0 1 0 0  0 0 0 0 1" result="l"/>
<feComposite in="n" in2="l" operator="arithmetic" k1="0" k2="0.8944" k3="0.5056" k4="-0.2000" result="nl"/>
<feComposite in="m" in2="nl" operator="arithmetic" k1="0" k2="1.0" k3="2.5714" k4="-1.2857" result="mn"/>
<feComponentTransfer in="mn" result="t"><feFuncR type="linear" slope="2.6" intercept="-0.8"/></feComponentTransfer>
<feColorMatrix in="t" type="matrix" values="-0.648 0 0 0 0.732  0.010 0 0 0 0.063  0.581 0 0 0 0.073  0 0 0 0 1" result="c"/>
<feTurbulence type="fractalNoise" baseFrequency="0.3" numOctaves="2" seed="50" result="b0"/>
<feColorMatrix in="b0" type="matrix" values="0 1.3 0 0 0.1  0 1.3 0 0 0.1  0 1.3 0 0 0.1  0 0 0 0 1" result="b"/>
<feComposite in="c" in2="b" operator="arithmetic" k1="1" k2="0" k3="0" k4="0" result="cb"/>
<feGaussianBlur in="cb" stdDeviation="1.6"/>
</filter>
<g transform="translate(1539.6 565.0)"><g filter="url(#f4)">
<rect x="0" y="0" width="424.3" height="424.0" fill="#000"/>
<polygon points="-5.6,-5.1 35.1,-5.1 32.6,20.4 19.9,40.7 -5.6,43.3" fill="#fff" fill-opacity="0.95"/>
<polygon points="65.7,-5.1 167.6,-5.1 154.8,15.3 91.2,17.8" fill="#fff" fill-opacity="0.55"/>
<polygon points="86.1,45.8 167.6,38.2 228.7,53.5 231.3,96.8 208.3,137.5 170.1,168.1 96.3,179.6 65.7,142.6 56.8,91.7" fill="#fff" fill-opacity="0.97"/>
<polygon points="320.4,12.7 353.5,40.7 345.9,66.2 317.8,86.6 284.7,50.9" fill="#fff" fill-opacity="0.78"/>
<polygon points="386.6,-5.1 428.6,-5.1 428.6,48.4 409.5,45.8 391.7,22.9" fill="#fff" fill-opacity="0.95"/>
<polygon points="428.6,109.5 407.0,122.2 396.8,168.1 407.0,219.0 409.5,254.7 428.6,259.8" fill="#fff" fill-opacity="0.85"/>
<polygon points="-5.6,109.5 27.5,117.2 35.1,147.7 58.1,173.2 63.2,219.0 40.2,239.4 14.8,249.6 -5.6,247.0" fill="#fff" fill-opacity="0.95"/>
<polygon points="30.1,280.2 91.2,295.4 142.1,318.4 208.3,331.1 233.8,371.8 228.7,429.1 55.5,429.1 35.1,387.1 12.2,346.4 9.7,308.2" fill="#fff" fill-opacity="0.95"/>
<polygon points="428.6,348.9 381.5,354.0 358.6,382.0 353.5,429.1 428.6,429.1" fill="#fff" fill-opacity="0.9"/>
<polygon points="403.2,298.0 402.2,303.9 399.5,309.2 395.3,313.4 390.0,316.1 384.1,317.1 378.2,316.1 372.8,313.4 368.6,309.2 365.9,303.9 365.0,298.0 365.9,292.1 368.6,286.8 372.8,282.5 378.2,279.8 384.1,278.9 390.0,279.8 395.3,282.5 399.5,286.8 402.2,292.1" fill="#fff" fill-opacity="0.5"/>
<polygon points="-5.6,399.9 14.8,407.5 19.9,429.1 -5.6,429.1" fill="#fff" fill-opacity="0.85"/>
</g></g>
<filter id="f5" x="0" y="0" width="426.3" height="424.0" filterUnits="userSpaceOnUse" color-interpolation-filters="sRGB">
<feGaussianBlur in="SourceGraphic" stdDeviation="3.5" result="m"/>
<feTurbulence type="fractalNoise" baseFrequency="0.21" numOctaves="1" seed="59" result="n0"/>
<feColorMatrix in="n0" type="matrix" values="1 0 0 0 0  0 1 0 0 0  0 0 1 0 0  0 0 0 0 1" result="n"/>
<feTurbulence type="fractalNoise" baseFrequency="0.05" numOctaves="2" seed="66" result="l0"/>
<feColorMatrix in="l0" type="matrix" values="1 0 0 0 0  0 1 0 0 0  0 0 1 0 0  0 0 0 0 1" result="l"/>
<feComposite in="n" in2="l" operator="arithmetic" k1="0" k2="1.0231" k3="0.3769" k4="-0.2000" result="nl"/>
<feComposite in="m" in2="nl" operator="arithmetic" k1="0" k2="1.0" k3="1.8571" k4="-0.9286" result="mn"/>
<feComponentTransfer in="mn" result="t"><feFuncR type="linear" slope="4" intercept="-1.5"/></feComponentTransfer>
<feColorMatrix in="t" type="matrix" values="-0.72 0 0 0 0.775  -0.012 0 0 0 0.045  0.53 0 0 0 0.055  0 0 0 0 1" result="c"/>
<feTurbulence type="fractalNoise" baseFrequency="0.3" numOctaves="2" seed="62" result="b0"/>
<feColorMatrix in="b0" type="matrix" values="0 1.3 0 0 0.1  0 1.3 0 0 0.1  0 1.3 0 0 0.1  0 0 0 0 1" result="b"/>
<feComposite in="c" in2="b" operator="arithmetic" k1="1" k2="0" k3="0" k4="0" result="cb"/>
<feGaussianBlur in="cb" stdDeviation="1.0"/>
</filter>
<g transform="translate(2008.7 498.2)"><g filter="url(#f5)">
<rect x="0" y="0" width="426.3" height="424.0" fill="#000"/>
<polygon points="-4.6,-5.1 40.3,-5.1 36.5,20.6 5.7,41.1 -4.6,41.1" fill="#fff" fill-opacity="1.0"/>
<polygon points="62.2,-5.1 193.2,-5.1 170.1,28.3 154.7,39.8 134.1,30.8 105.9,23.1 87.9,12.8" fill="#fff" fill-opacity="1.0"/>
<polygon points="77.6,64.2 129.0,60.4 138.0,77.1 130.3,128.5 116.1,142.6 90.5,140.0 72.5,123.3 63.5,97.6" fill="#fff" fill-opacity="1.0"/>
<polygon points="298.6,15.4 344.8,6.4 362.8,28.3 377.0,64.2 350.0,64.2 332.0,86.1 308.9,74.5 288.3,79.7 276.7,64.2 293.5,41.1" fill="#fff" fill-opacity="1.0"/>
<polygon points="391.1,-5.1 430.9,-5.1 430.9,41.1 411.7,36.0 393.7,15.4" fill="#fff" fill-opacity="1.0"/>
<polygon points="430.9,110.5 406.5,128.5 387.2,154.2 401.4,169.6 411.7,195.3 406.5,221.0 416.8,246.7 430.9,249.3" fill="#fff" fill-opacity="1.0"/>
<polygon points="-4.6,113.1 28.8,123.3 28.8,149.0 15.9,164.5 23.6,190.2 21.1,226.1 -4.6,236.4" fill="#fff" fill-opacity="1.0"/>
<polygon points="15.9,272.4 67.3,269.8 98.2,292.9 126.4,310.9 154.7,323.8 195.8,362.3 180.4,380.3 195.8,400.9 200.9,430.4 67.3,430.4 54.5,400.9 21.1,375.2 5.7,334.1 5.7,292.9" fill="#fff" fill-opacity="1.0"/>
<polygon points="-4.6,390.6 15.9,395.7 18.5,430.4 -4.6,430.4" fill="#fff" fill-opacity="1.0"/>
<polygon points="362.8,280.1 386.0,276.2 393.7,292.9 383.4,310.9 362.8,305.8" fill="#fff" fill-opacity="0.9"/>
<polygon points="370.5,358.5 391.1,362.3 397.5,380.3 375.7,400.9 391.1,416.3 430.9,400.9 430.9,430.4 380.8,430.4 364.1,390.6" fill="#fff" fill-opacity="1.0"/>
</g></g>
<filter id="f6" x="0" y="0" width="426.6" height="425.8" filterUnits="userSpaceOnUse" color-interpolation-filters="sRGB">
<feGaussianBlur in="SourceGraphic" stdDeviation="3.5" result="m"/>
<feTurbulence type="fractalNoise" baseFrequency="0.21" numOctaves="1" seed="71" result="n0"/>
<feColorMatrix in="n0" type="matrix" values="1 0 0 0 0  0 1 0 0 0  0 0 1 0 0  0 0 0 0 1" result="n"/>
<feTurbulence type="fractalNoise" baseFrequency="0.05" numOctaves="2" seed="78" result="l0"/>
<feColorMatrix in="l0" type="matrix" values="1 0 0 0 0  0 1 0 0 0  0 0 1 0 0  0 0 0 0 1" result="l"/>
<feComposite in="n" in2="l" operator="arithmetic" k1="0" k2="1.0231" k3="0.3769" k4="-0.2000" result="nl"/>
<feComposite in="m" in2="nl" operator="arithmetic" k1="0" k2="1.0" k3="1.8571" k4="-0.9286" result="mn"/>
<feComponentTransfer in="mn" result="t"><feFuncR type="linear" slope="4" intercept="-1.5"/></feComponentTransfer>
<feColorMatrix in="t" type="matrix" values="-0.72 0 0 0 0.775  -0.012 0 0 0 0.045  0.53 0 0 0 0.055  0 0 0 0 1" result="c"/>
<feTurbulence type="fractalNoise" baseFrequency="0.3" numOctaves="2" seed="74" result="b0"/>
<feColorMatrix in="b0" type="matrix" values="0 1.3 0 0 0.1  0 1.3 0 0 0.1  0 1.3 0 0 0.1  0 0 0 0 1" result="b"/>
<feComposite in="c" in2="b" operator="arithmetic" k1="1" k2="0" k3="0" k4="0" result="cb"/>
<feGaussianBlur in="cb" stdDeviation="1.0"/>
</filter>
<g transform="translate(384.2 1263.7)"><g filter="url(#f6)">
<rect x="0" y="0" width="426.6" height="425.8" fill="#000"/>
<polygon points="-5.1,-4.6 41.1,-4.6 52.7,15.9 47.5,36.5 5.1,41.6 -5.1,41.6" fill="#fff" fill-opacity="1.0"/>
<polygon points="77.1,-4.6 221.0,-4.6 210.7,18.5 143.9,27.5 113.1,18.5 82.2,18.5" fill="#fff" fill-opacity="1.0"/>
<polygon points="92.5,49.3 133.6,41.6 208.2,39.1 232.6,54.5 227.4,98.2 217.2,134.1 169.6,150.9 123.4,158.6 102.8,168.8 82.2,154.7 64.2,123.9 60.4,93.0 74.5,67.3" fill="#fff" fill-opacity="1.0"/>
<polygon points="280.1,23.6 313.5,12.1 349.5,36.5 355.9,67.3 345.6,103.3 345.6,149.6 318.7,154.7 300.7,163.7 280.1,139.3 259.6,129.0 246.7,93.0 257.0,49.3" fill="#fff" fill-opacity="1.0"/>
<polygon points="403.5,-4.6 431.7,-4.6 431.7,54.5 411.2,41.6" fill="#fff" fill-opacity="1.0"/>
<polygon points="431.7,54.5 406.0,62.2 390.6,98.2 375.2,108.4 380.3,144.4 375.2,195.8 390.6,221.5 411.2,247.2 431.7,252.4" fill="#fff" fill-opacity="1.0"/>
<polygon points="-5.1,108.4 36.0,111.0 48.8,134.1 46.3,170.1 64.2,195.8 41.1,211.2 38.5,236.9 20.6,247.2 -5.1,236.9" fill="#fff" fill-opacity="1.0"/>
<polygon points="102.8,190.7 133.6,195.8 169.6,170.1 205.6,144.4 246.7,149.6 262.1,185.5 272.4,221.5 267.3,247.2 262.1,272.9 267.3,308.9 251.8,328.2 221.0,321.7 185.0,303.8 133.6,288.3 97.7,280.6 74.5,267.8 61.7,236.9 61.7,211.2" fill="#fff" fill-opacity="1.0"/>
<polygon points="192.7,183.0 221.0,188.1 246.7,201.0 244.1,224.1 215.9,226.7 208.2,211.2" fill="#000" fill-opacity="1.0"/>
<polygon points="308.4,236.9 334.1,216.4 359.8,226.7 385.5,252.4 407.3,288.3 400.9,308.9 375.2,321.7 344.4,324.3 311.0,333.3 295.5,298.6 290.4,267.8" fill="#fff" fill-opacity="1.0"/>
<polygon points="15.4,303.8 41.1,290.9 74.5,298.6 113.1,306.3 149.1,316.6 169.6,337.2 200.5,344.9 221.0,360.3 244.1,375.7 236.4,401.4 226.1,432.3 66.8,432.3 56.5,406.6 30.8,386.0 20.6,355.2 10.3,324.3" fill="#fff" fill-opacity="1.0"/>
<polygon points="119.5,324.3 118.9,327.5 117.3,330.4 114.7,332.6 111.5,334.1 107.9,334.6 104.4,334.1 101.1,332.6 98.6,330.4 96.9,327.5 96.4,324.3 96.9,321.1 98.6,318.3 101.1,316.0 104.4,314.5 107.9,314.0 111.5,314.5 114.7,316.0 117.3,318.3 118.9,321.1" fill="#000" fill-opacity="1.0"/>
<polygon points="-5.1,401.4 25.7,406.6 28.3,432.3 -5.1,432.3" fill="#fff" fill-opacity="1.0"/>
<polygon points="257.0,375.7 290.4,375.7 295.5,401.4 272.4,416.8 254.4,406.6" fill="#fff" fill-opacity="0.85"/>
<polygon points="395.8,406.6 431.7,401.4 431.7,432.3 395.8,432.3" fill="#fff" fill-opacity="1.0"/>
<polygon points="390.6,388.6 390.0,392.5 388.2,396.1 385.3,399.0 381.7,400.8 377.8,401.4 373.8,400.8 370.2,399.0 367.4,396.1 365.6,392.5 364.9,388.6 365.6,384.6 367.4,381.0 370.2,378.2 373.8,376.3 377.8,375.7 381.7,376.3 385.3,378.2 388.2,381.0 390.0,384.6" fill="#fff" fill-opacity="0.8"/>
</g></g>
<circle cx="352.7" cy="428.3" r="30" fill="none" stroke="#00b050" stroke-width="6.9"/>
<circle cx="844.6" cy="633" r="30" fill="none" stroke="#00b050" stroke-width="6.9"/>
<circle cx="1348.7" cy="512" r="30" fill="none" stroke="#00b050" stroke-width="6.9"/>
<circle cx="1850" cy="454.2" r="30" fill="none" stroke="#00b050" stroke-width="6.9"/>
<circle cx="2352.4" cy="384" r="30" fill="none" stroke="#00b050" stroke-width="6.9"/>
<circle cx="349.2" cy="1045.0" r="30" fill="none" stroke="#00b050" stroke-width="6.9"/>
<line x1="353.0" y1="398.0" x2="392.1" y2="341.1" stroke="#00b050" stroke-width="6.3"/><polygon points="403.1,325.0 400.2,349.1 381.7,336.4" fill="#00b050"/>
<line x1="864.3" y1="660.8" x2="880.2" y2="702.2" stroke="#00b050" stroke-width="6.3"/><polygon points="887.2,720.4 869.0,704.4 890.0,696.3" fill="#00b050"/>
<line x1="1361.0" y1="542.0" x2="1381.4" y2="599.1" stroke="#00b050" stroke-width="6.3"/><polygon points="1388.0,617.5 1370.2,601.0 1391.4,593.5" fill="#00b050"/>
<line x1="1849.0" y1="486.0" x2="1839.0" y2="547.3" stroke="#00b050" stroke-width="6.3"/><polygon points="1835.9,566.5 1828.2,543.5 1850.5,547.1" fill="#00b050"/>
<line x1="2352.0" y1="416.0" x2="2330.8" y2="477.6" stroke="#00b050" stroke-width="6.3"/><polygon points="2324.4,496.0 2320.8,472.0 2342.0,479.3" fill="#00b050"/>
<line x1="351.3" y1="1076.0" x2="409.2" y2="1246.0" stroke="#00b050" stroke-width="6.3"/><polygon points="415.5,1264.5 397.9,1247.8 419.2,1240.5" fill="#00b050"/>
<line x1="1813.2" y1="1211" x2="1813.2" y2="1152" stroke="#0000ff" stroke-width="8"/>
<polygon points="1813.2,1134 1801,1156 1825.4,1156" fill="#0000ff"/>
<line x1="1813.2" y1="1211" x2="1870" y2="1211" stroke="#00ff00" stroke-width="8"/>
<polygon points="1890,1211 1868,1199 1868,1223" fill="#00ff00"/>
<polygon points="1802.5,1217.5 1816.5,1204 1825.5,1222.5" fill="#ff0000"/>
<text transform="translate(1790.66 1117.60) scale(0.9456 1)" font-size="100" style="fill:#2020ff">z</text>
<text transform="translate(1895.08 1246.50) scale(0.8328 1)" font-size="100" style="fill:#00ff33">y</text>
<text transform="translate(1828.22 1280.30) scale(0.8831 1)" font-size="100" style="fill:#ff2020">x</text>
<circle cx="2042.6" cy="1095.3" r="16" fill="#e00000"/>
<circle cx="2043.6" cy="1237" r="15.5" fill="#002060"/>
<text transform="translate(2140.32 1125.80) scale(0.9750 1)" font-size="77">Other</text>
<text transform="translate(2140.17 1264.00) scale(1.0074 1)" font-size="77">BCC</text>
</svg></body></html>
